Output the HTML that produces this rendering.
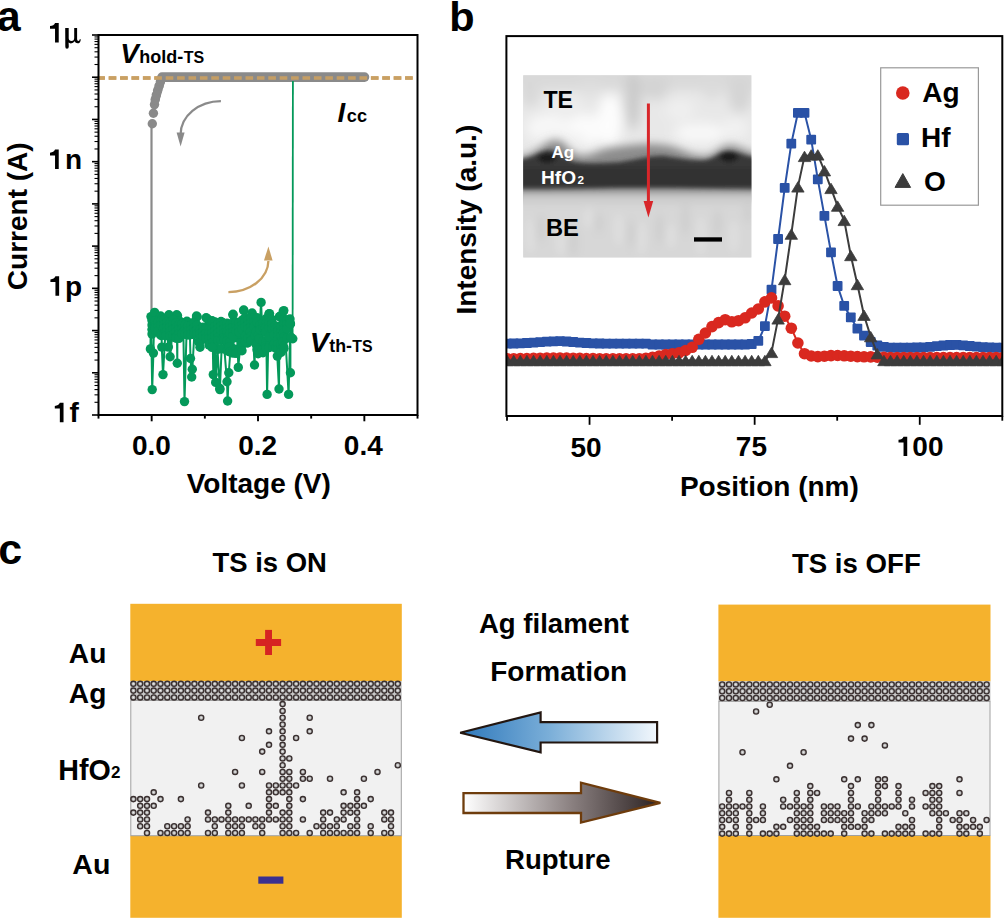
<!DOCTYPE html>
<html><head><meta charset="utf-8"><style>
html,body{margin:0;padding:0;background:#fff;width:1004px;height:919px;overflow:hidden;}
svg{display:block;}
</style></head><body>
<svg width="1004" height="919" viewBox="0 0 1004 919"><text x="-3.10" y="30.71" font-family="Liberation Sans" font-weight="bold" font-style="normal" font-size="42.50" fill="#000" >a</text>
<line x1="97.6" y1="78" x2="416" y2="78" stroke="#c9a063" stroke-width="3.4" stroke-dasharray="7.6 3.8" stroke-dashoffset="0.3"/>
<line x1="151.5" y1="124" x2="151.5" y2="312" stroke="#8a8a8a" stroke-width="2.2"/>
<circle cx="152.3" cy="123.7" r="4.7" fill="#8a8a8a"/>
<circle cx="153.4" cy="113.3" r="4.7" fill="#8a8a8a"/>
<circle cx="154.5" cy="104.6" r="4.7" fill="#8a8a8a"/>
<polyline points="155.3,100 156.6,95 158.2,89.5 159.8,84.5 161.3,79.5 162.5,77.2" fill="none" stroke="#8a8a8a" stroke-width="8.6" stroke-linejoin="round" stroke-linecap="round"/>
<circle cx="155.2" cy="99.5" r="4.7" fill="#8a8a8a"/>
<circle cx="156.3" cy="95" r="4.7" fill="#8a8a8a"/>
<circle cx="157.6" cy="90.5" r="4.7" fill="#8a8a8a"/>
<circle cx="159" cy="86" r="4.7" fill="#8a8a8a"/>
<circle cx="160.4" cy="81.5" r="4.7" fill="#8a8a8a"/>
<line x1="162" y1="77.1" x2="364.5" y2="77.1" stroke="#8a8a8a" stroke-width="9.6" stroke-linecap="round"/>
<line x1="97.6" y1="78" x2="416" y2="78" stroke="#c9a063" stroke-width="3.4" stroke-dasharray="7.6 3.8" stroke-dashoffset="0.3" opacity="0.95"/>
<path d="M220.9,101.1 A40.3,33.5 0 0 0 180.6,134.6" fill="none" stroke="#8a8a8a" stroke-width="2.2"/>
<path d="M176.6,132.5 L184.6,132.5 L180.6,146.5 Z" fill="#8a8a8a"/>
<path d="M228.4,292.1 A40,31.6 0 0 0 268.4,261" fill="none" stroke="#c9a063" stroke-width="2.3"/>
<path d="M264,260.5 L272.6,260.5 L268.4,246.4 Z" fill="#c9a063"/>
<line x1="292.9" y1="81" x2="292.6" y2="336" stroke="#04995a" stroke-width="1.8"/>
<polyline points="150.4,348.9 151.0,316.6 152.2,389.6 153.4,353.1 154.2,316.7 154.6,312.4 155.2,325.5 160.6,316.0 161.4,318.5 161.8,347.1 163.0,374.6 166.0,321.6 168.4,347.1 168.5,315.8 169.0,314.8 170.1,356.7 172.6,331.3 173.9,337.1 176.7,314.8 177.3,363.3 177.5,315.8 179.2,320.8 180.6,335.5 181.9,325.2 183.2,322.6 184.5,401.6 186.9,321.3 187.3,322.1 188.5,323.3 189.8,330.5 190.5,358.5 191.7,377.0 192.3,369.3 195.1,321.1 196.5,316.0 197.2,316.7 198.9,341.7 198.9,341.7 201.7,329.4 203.0,337.6 204.3,333.6 206.1,317.8 207.1,318.5 208.3,341.0 209.6,327.3 212.0,320.7 212.4,321.2 213.3,374.6 214.9,341.9 215.7,382.4 217.5,349.4 219.8,388.4 219.9,389.6 221.6,348.9 221.6,322.5 222.2,322.5 222.3,323.0 227.0,381.8 227.6,401.0 228.8,372.8 230.7,346.3 233.0,314.2 233.0,314.9 234.7,337.8 236.0,337.4 237.3,333.7 238.3,367.4 240.0,348.3 241.3,334.2 243.7,310.0 243.8,310.5 245.3,332.6 247.3,342.9 247.3,342.9 249.2,334.8 250.5,325.1 251.9,314.0 252.1,313.0 254.5,365.0 255.8,328.3 257.1,323.0 258.1,353.7 259.8,321.7 261.1,302.4 262.9,346.5 262.9,322.5 265.1,330.9 266.4,344.4 267.1,394.4 268.9,314.0 269.5,313.6 271.7,344.7 273.0,342.9 274.3,344.2 275.6,327.8 277.3,356.1 279.0,389.0 279.6,316.5 279.6,316.7 282.0,342.9 282.0,342.9 283.2,311.4 283.8,310.6 288.6,394.4 290.4,323.7 290.4,372.8 290.4,323.9 292.8,338.7" fill="none" stroke="#04995a" stroke-width="2"/>
<circle cx="150.4" cy="348.9" r="4.7" fill="#04995a"/>
<circle cx="151.0" cy="316.6" r="4.7" fill="#04995a"/>
<circle cx="152.2" cy="389.6" r="4.7" fill="#04995a"/>
<circle cx="153.4" cy="353.1" r="4.7" fill="#04995a"/>
<circle cx="154.2" cy="316.7" r="4.7" fill="#04995a"/>
<circle cx="154.6" cy="312.4" r="4.7" fill="#04995a"/>
<circle cx="155.2" cy="325.5" r="4.7" fill="#04995a"/>
<circle cx="160.6" cy="316.0" r="4.7" fill="#04995a"/>
<circle cx="161.4" cy="318.5" r="4.7" fill="#04995a"/>
<circle cx="161.8" cy="347.1" r="4.7" fill="#04995a"/>
<circle cx="163.0" cy="374.6" r="4.7" fill="#04995a"/>
<circle cx="166.0" cy="321.6" r="4.7" fill="#04995a"/>
<circle cx="168.4" cy="347.1" r="4.7" fill="#04995a"/>
<circle cx="168.5" cy="315.8" r="4.7" fill="#04995a"/>
<circle cx="169.0" cy="314.8" r="4.7" fill="#04995a"/>
<circle cx="170.1" cy="356.7" r="4.7" fill="#04995a"/>
<circle cx="172.6" cy="331.3" r="4.7" fill="#04995a"/>
<circle cx="173.9" cy="337.1" r="4.7" fill="#04995a"/>
<circle cx="176.7" cy="314.8" r="4.7" fill="#04995a"/>
<circle cx="177.3" cy="363.3" r="4.7" fill="#04995a"/>
<circle cx="177.5" cy="315.8" r="4.7" fill="#04995a"/>
<circle cx="179.2" cy="320.8" r="4.7" fill="#04995a"/>
<circle cx="180.6" cy="335.5" r="4.7" fill="#04995a"/>
<circle cx="181.9" cy="325.2" r="4.7" fill="#04995a"/>
<circle cx="183.2" cy="322.6" r="4.7" fill="#04995a"/>
<circle cx="184.5" cy="401.6" r="4.7" fill="#04995a"/>
<circle cx="186.9" cy="321.3" r="4.7" fill="#04995a"/>
<circle cx="187.3" cy="322.1" r="4.7" fill="#04995a"/>
<circle cx="188.5" cy="323.3" r="4.7" fill="#04995a"/>
<circle cx="189.8" cy="330.5" r="4.7" fill="#04995a"/>
<circle cx="190.5" cy="358.5" r="4.7" fill="#04995a"/>
<circle cx="191.7" cy="377.0" r="4.7" fill="#04995a"/>
<circle cx="192.3" cy="369.3" r="4.7" fill="#04995a"/>
<circle cx="195.1" cy="321.1" r="4.7" fill="#04995a"/>
<circle cx="196.5" cy="316.0" r="4.7" fill="#04995a"/>
<circle cx="197.2" cy="316.7" r="4.7" fill="#04995a"/>
<circle cx="198.9" cy="341.7" r="4.7" fill="#04995a"/>
<circle cx="198.9" cy="341.7" r="4.7" fill="#04995a"/>
<circle cx="201.7" cy="329.4" r="4.7" fill="#04995a"/>
<circle cx="203.0" cy="337.6" r="4.7" fill="#04995a"/>
<circle cx="204.3" cy="333.6" r="4.7" fill="#04995a"/>
<circle cx="206.1" cy="317.8" r="4.7" fill="#04995a"/>
<circle cx="207.1" cy="318.5" r="4.7" fill="#04995a"/>
<circle cx="208.3" cy="341.0" r="4.7" fill="#04995a"/>
<circle cx="209.6" cy="327.3" r="4.7" fill="#04995a"/>
<circle cx="212.0" cy="320.7" r="4.7" fill="#04995a"/>
<circle cx="212.4" cy="321.2" r="4.7" fill="#04995a"/>
<circle cx="213.3" cy="374.6" r="4.7" fill="#04995a"/>
<circle cx="214.9" cy="341.9" r="4.7" fill="#04995a"/>
<circle cx="215.7" cy="382.4" r="4.7" fill="#04995a"/>
<circle cx="217.5" cy="349.4" r="4.7" fill="#04995a"/>
<circle cx="219.8" cy="388.4" r="4.7" fill="#04995a"/>
<circle cx="219.9" cy="389.6" r="4.7" fill="#04995a"/>
<circle cx="221.6" cy="348.9" r="4.7" fill="#04995a"/>
<circle cx="221.6" cy="322.5" r="4.7" fill="#04995a"/>
<circle cx="222.2" cy="322.5" r="4.7" fill="#04995a"/>
<circle cx="222.3" cy="323.0" r="4.7" fill="#04995a"/>
<circle cx="227.0" cy="381.8" r="4.7" fill="#04995a"/>
<circle cx="227.6" cy="401.0" r="4.7" fill="#04995a"/>
<circle cx="228.8" cy="372.8" r="4.7" fill="#04995a"/>
<circle cx="230.7" cy="346.3" r="4.7" fill="#04995a"/>
<circle cx="233.0" cy="314.2" r="4.7" fill="#04995a"/>
<circle cx="233.0" cy="314.9" r="4.7" fill="#04995a"/>
<circle cx="234.7" cy="337.8" r="4.7" fill="#04995a"/>
<circle cx="236.0" cy="337.4" r="4.7" fill="#04995a"/>
<circle cx="237.3" cy="333.7" r="4.7" fill="#04995a"/>
<circle cx="238.3" cy="367.4" r="4.7" fill="#04995a"/>
<circle cx="240.0" cy="348.3" r="4.7" fill="#04995a"/>
<circle cx="241.3" cy="334.2" r="4.7" fill="#04995a"/>
<circle cx="243.7" cy="310.0" r="4.7" fill="#04995a"/>
<circle cx="243.8" cy="310.5" r="4.7" fill="#04995a"/>
<circle cx="245.3" cy="332.6" r="4.7" fill="#04995a"/>
<circle cx="247.3" cy="342.9" r="4.7" fill="#04995a"/>
<circle cx="247.3" cy="342.9" r="4.7" fill="#04995a"/>
<circle cx="249.2" cy="334.8" r="4.7" fill="#04995a"/>
<circle cx="250.5" cy="325.1" r="4.7" fill="#04995a"/>
<circle cx="251.9" cy="314.0" r="4.7" fill="#04995a"/>
<circle cx="252.1" cy="313.0" r="4.7" fill="#04995a"/>
<circle cx="254.5" cy="365.0" r="4.7" fill="#04995a"/>
<circle cx="255.8" cy="328.3" r="4.7" fill="#04995a"/>
<circle cx="257.1" cy="323.0" r="4.7" fill="#04995a"/>
<circle cx="258.1" cy="353.7" r="4.7" fill="#04995a"/>
<circle cx="259.8" cy="321.7" r="4.7" fill="#04995a"/>
<circle cx="261.1" cy="302.4" r="4.7" fill="#04995a"/>
<circle cx="262.9" cy="346.5" r="4.7" fill="#04995a"/>
<circle cx="262.9" cy="322.5" r="4.7" fill="#04995a"/>
<circle cx="265.1" cy="330.9" r="4.7" fill="#04995a"/>
<circle cx="266.4" cy="344.4" r="4.7" fill="#04995a"/>
<circle cx="267.1" cy="394.4" r="4.7" fill="#04995a"/>
<circle cx="268.9" cy="314.0" r="4.7" fill="#04995a"/>
<circle cx="269.5" cy="313.6" r="4.7" fill="#04995a"/>
<circle cx="271.7" cy="344.7" r="4.7" fill="#04995a"/>
<circle cx="273.0" cy="342.9" r="4.7" fill="#04995a"/>
<circle cx="274.3" cy="344.2" r="4.7" fill="#04995a"/>
<circle cx="275.6" cy="327.8" r="4.7" fill="#04995a"/>
<circle cx="277.3" cy="356.1" r="4.7" fill="#04995a"/>
<circle cx="279.0" cy="389.0" r="4.7" fill="#04995a"/>
<circle cx="279.6" cy="316.5" r="4.7" fill="#04995a"/>
<circle cx="279.6" cy="316.7" r="4.7" fill="#04995a"/>
<circle cx="282.0" cy="342.9" r="4.7" fill="#04995a"/>
<circle cx="282.0" cy="342.9" r="4.7" fill="#04995a"/>
<circle cx="283.2" cy="311.4" r="4.7" fill="#04995a"/>
<circle cx="283.8" cy="310.6" r="4.7" fill="#04995a"/>
<circle cx="288.6" cy="394.4" r="4.7" fill="#04995a"/>
<circle cx="290.4" cy="323.7" r="4.7" fill="#04995a"/>
<circle cx="290.4" cy="372.8" r="4.7" fill="#04995a"/>
<circle cx="290.4" cy="323.9" r="4.7" fill="#04995a"/>
<circle cx="292.8" cy="338.7" r="4.7" fill="#04995a"/>
<circle cx="152.0" cy="320.6" r="4.7" fill="#04995a"/>
<circle cx="152.0" cy="325.1" r="4.7" fill="#04995a"/>
<circle cx="152.0" cy="329.6" r="4.7" fill="#04995a"/>
<circle cx="152.0" cy="334.1" r="4.7" fill="#04995a"/>
<circle cx="155.0" cy="321.0" r="4.7" fill="#04995a"/>
<circle cx="155.0" cy="325.5" r="4.7" fill="#04995a"/>
<circle cx="155.0" cy="330.0" r="4.7" fill="#04995a"/>
<circle cx="155.0" cy="327.6" r="4.7" fill="#04995a"/>
<circle cx="158.0" cy="322.2" r="4.7" fill="#04995a"/>
<circle cx="158.0" cy="326.7" r="4.7" fill="#04995a"/>
<circle cx="158.0" cy="331.2" r="4.7" fill="#04995a"/>
<circle cx="161.0" cy="320.7" r="4.7" fill="#04995a"/>
<circle cx="161.0" cy="325.2" r="4.7" fill="#04995a"/>
<circle cx="160.1" cy="334.2" r="4.7" fill="#04995a"/>
<circle cx="161.0" cy="335.5" r="4.7" fill="#04995a"/>
<circle cx="164.0" cy="320.0" r="4.7" fill="#04995a"/>
<circle cx="164.0" cy="324.5" r="4.7" fill="#04995a"/>
<circle cx="163.3" cy="329.0" r="4.7" fill="#04995a"/>
<circle cx="163.7" cy="333.5" r="4.7" fill="#04995a"/>
<circle cx="164.0" cy="335.2" r="4.7" fill="#04995a"/>
<circle cx="167.0" cy="322.1" r="4.7" fill="#04995a"/>
<circle cx="167.0" cy="326.6" r="4.7" fill="#04995a"/>
<circle cx="166.7" cy="331.1" r="4.7" fill="#04995a"/>
<circle cx="166.2" cy="335.6" r="4.7" fill="#04995a"/>
<circle cx="170.0" cy="322.5" r="4.7" fill="#04995a"/>
<circle cx="170.0" cy="327.0" r="4.7" fill="#04995a"/>
<circle cx="170.0" cy="331.5" r="4.7" fill="#04995a"/>
<circle cx="170.0" cy="335.8" r="4.7" fill="#04995a"/>
<circle cx="173.0" cy="319.8" r="4.7" fill="#04995a"/>
<circle cx="173.0" cy="324.3" r="4.7" fill="#04995a"/>
<circle cx="173.0" cy="328.8" r="4.7" fill="#04995a"/>
<circle cx="173.0" cy="335.2" r="4.7" fill="#04995a"/>
<circle cx="176.0" cy="323.1" r="4.7" fill="#04995a"/>
<circle cx="176.0" cy="327.6" r="4.7" fill="#04995a"/>
<circle cx="176.0" cy="332.1" r="4.7" fill="#04995a"/>
<circle cx="176.1" cy="336.6" r="4.7" fill="#04995a"/>
<circle cx="176.0" cy="338.3" r="4.7" fill="#04995a"/>
<circle cx="179.0" cy="324.6" r="4.7" fill="#04995a"/>
<circle cx="179.0" cy="329.1" r="4.7" fill="#04995a"/>
<circle cx="179.0" cy="333.6" r="4.7" fill="#04995a"/>
<circle cx="179.0" cy="338.4" r="4.7" fill="#04995a"/>
<circle cx="182.0" cy="324.1" r="4.7" fill="#04995a"/>
<circle cx="182.0" cy="328.6" r="4.7" fill="#04995a"/>
<circle cx="182.0" cy="333.1" r="4.7" fill="#04995a"/>
<circle cx="182.0" cy="334.3" r="4.7" fill="#04995a"/>
<circle cx="185.0" cy="325.3" r="4.7" fill="#04995a"/>
<circle cx="185.0" cy="329.8" r="4.7" fill="#04995a"/>
<circle cx="185.0" cy="334.3" r="4.7" fill="#04995a"/>
<circle cx="188.0" cy="326.0" r="4.7" fill="#04995a"/>
<circle cx="188.0" cy="330.5" r="4.7" fill="#04995a"/>
<circle cx="188.0" cy="335.0" r="4.7" fill="#04995a"/>
<circle cx="191.0" cy="325.2" r="4.7" fill="#04995a"/>
<circle cx="191.0" cy="329.7" r="4.7" fill="#04995a"/>
<circle cx="191.0" cy="334.2" r="4.7" fill="#04995a"/>
<circle cx="191.0" cy="334.6" r="4.7" fill="#04995a"/>
<circle cx="194.0" cy="323.1" r="4.7" fill="#04995a"/>
<circle cx="194.0" cy="327.6" r="4.7" fill="#04995a"/>
<circle cx="194.0" cy="332.1" r="4.7" fill="#04995a"/>
<circle cx="194.0" cy="333.6" r="4.7" fill="#04995a"/>
<circle cx="197.0" cy="325.1" r="4.7" fill="#04995a"/>
<circle cx="197.0" cy="329.6" r="4.7" fill="#04995a"/>
<circle cx="197.0" cy="334.1" r="4.7" fill="#04995a"/>
<circle cx="200.0" cy="329.5" r="4.7" fill="#04995a"/>
<circle cx="200.0" cy="334.0" r="4.7" fill="#04995a"/>
<circle cx="200.0" cy="338.5" r="4.7" fill="#04995a"/>
<circle cx="199.5" cy="343.0" r="4.7" fill="#04995a"/>
<circle cx="200.0" cy="347.3" r="4.7" fill="#04995a"/>
<circle cx="203.0" cy="327.1" r="4.7" fill="#04995a"/>
<circle cx="203.0" cy="331.6" r="4.7" fill="#04995a"/>
<circle cx="203.0" cy="336.1" r="4.7" fill="#04995a"/>
<circle cx="206.0" cy="328.9" r="4.7" fill="#04995a"/>
<circle cx="206.0" cy="333.4" r="4.7" fill="#04995a"/>
<circle cx="206.0" cy="337.9" r="4.7" fill="#04995a"/>
<circle cx="209.0" cy="328.8" r="4.7" fill="#04995a"/>
<circle cx="209.0" cy="333.3" r="4.7" fill="#04995a"/>
<circle cx="209.0" cy="337.8" r="4.7" fill="#04995a"/>
<circle cx="209.0" cy="344.9" r="4.7" fill="#04995a"/>
<circle cx="212.0" cy="328.9" r="4.7" fill="#04995a"/>
<circle cx="212.0" cy="333.4" r="4.7" fill="#04995a"/>
<circle cx="212.0" cy="337.9" r="4.7" fill="#04995a"/>
<circle cx="212.9" cy="342.4" r="4.7" fill="#04995a"/>
<circle cx="212.0" cy="347.4" r="4.7" fill="#04995a"/>
<circle cx="215.0" cy="321.9" r="4.7" fill="#04995a"/>
<circle cx="215.0" cy="326.4" r="4.7" fill="#04995a"/>
<circle cx="215.0" cy="330.9" r="4.7" fill="#04995a"/>
<circle cx="215.0" cy="336.3" r="4.7" fill="#04995a"/>
<circle cx="218.0" cy="324.0" r="4.7" fill="#04995a"/>
<circle cx="218.0" cy="328.5" r="4.7" fill="#04995a"/>
<circle cx="218.0" cy="333.0" r="4.7" fill="#04995a"/>
<circle cx="218.1" cy="337.5" r="4.7" fill="#04995a"/>
<circle cx="218.0" cy="340.4" r="4.7" fill="#04995a"/>
<circle cx="221.0" cy="321.5" r="4.7" fill="#04995a"/>
<circle cx="221.0" cy="326.0" r="4.7" fill="#04995a"/>
<circle cx="221.0" cy="330.5" r="4.7" fill="#04995a"/>
<circle cx="221.0" cy="340.4" r="4.7" fill="#04995a"/>
<circle cx="224.0" cy="324.1" r="4.7" fill="#04995a"/>
<circle cx="224.0" cy="328.6" r="4.7" fill="#04995a"/>
<circle cx="224.0" cy="333.1" r="4.7" fill="#04995a"/>
<circle cx="223.6" cy="337.6" r="4.7" fill="#04995a"/>
<circle cx="224.0" cy="339.6" r="4.7" fill="#04995a"/>
<circle cx="227.0" cy="323.3" r="4.7" fill="#04995a"/>
<circle cx="227.0" cy="327.8" r="4.7" fill="#04995a"/>
<circle cx="227.0" cy="332.3" r="4.7" fill="#04995a"/>
<circle cx="227.8" cy="336.8" r="4.7" fill="#04995a"/>
<circle cx="226.9" cy="341.3" r="4.7" fill="#04995a"/>
<circle cx="227.0" cy="350.8" r="4.7" fill="#04995a"/>
<circle cx="230.0" cy="324.3" r="4.7" fill="#04995a"/>
<circle cx="230.0" cy="328.8" r="4.7" fill="#04995a"/>
<circle cx="230.0" cy="333.3" r="4.7" fill="#04995a"/>
<circle cx="229.9" cy="342.3" r="4.7" fill="#04995a"/>
<circle cx="229.0" cy="346.8" r="4.7" fill="#04995a"/>
<circle cx="230.0" cy="352.0" r="4.7" fill="#04995a"/>
<circle cx="233.0" cy="322.9" r="4.7" fill="#04995a"/>
<circle cx="233.0" cy="327.4" r="4.7" fill="#04995a"/>
<circle cx="233.0" cy="331.9" r="4.7" fill="#04995a"/>
<circle cx="233.0" cy="336.4" r="4.7" fill="#04995a"/>
<circle cx="233.1" cy="349.9" r="4.7" fill="#04995a"/>
<circle cx="233.0" cy="353.1" r="4.7" fill="#04995a"/>
<circle cx="236.0" cy="322.3" r="4.7" fill="#04995a"/>
<circle cx="236.0" cy="326.8" r="4.7" fill="#04995a"/>
<circle cx="236.0" cy="331.3" r="4.7" fill="#04995a"/>
<circle cx="236.2" cy="349.3" r="4.7" fill="#04995a"/>
<circle cx="236.0" cy="353.4" r="4.7" fill="#04995a"/>
<circle cx="239.0" cy="323.0" r="4.7" fill="#04995a"/>
<circle cx="239.0" cy="327.5" r="4.7" fill="#04995a"/>
<circle cx="239.0" cy="332.0" r="4.7" fill="#04995a"/>
<circle cx="242.0" cy="320.3" r="4.7" fill="#04995a"/>
<circle cx="242.0" cy="324.8" r="4.7" fill="#04995a"/>
<circle cx="242.0" cy="329.3" r="4.7" fill="#04995a"/>
<circle cx="241.2" cy="342.8" r="4.7" fill="#04995a"/>
<circle cx="241.1" cy="347.3" r="4.7" fill="#04995a"/>
<circle cx="242.0" cy="350.8" r="4.7" fill="#04995a"/>
<circle cx="245.0" cy="317.7" r="4.7" fill="#04995a"/>
<circle cx="245.0" cy="322.2" r="4.7" fill="#04995a"/>
<circle cx="245.0" cy="326.7" r="4.7" fill="#04995a"/>
<circle cx="245.4" cy="335.7" r="4.7" fill="#04995a"/>
<circle cx="245.0" cy="341.8" r="4.7" fill="#04995a"/>
<circle cx="248.0" cy="320.1" r="4.7" fill="#04995a"/>
<circle cx="248.0" cy="324.6" r="4.7" fill="#04995a"/>
<circle cx="248.0" cy="329.1" r="4.7" fill="#04995a"/>
<circle cx="248.0" cy="338.1" r="4.7" fill="#04995a"/>
<circle cx="251.0" cy="318.0" r="4.7" fill="#04995a"/>
<circle cx="251.0" cy="322.5" r="4.7" fill="#04995a"/>
<circle cx="251.0" cy="327.0" r="4.7" fill="#04995a"/>
<circle cx="250.4" cy="331.5" r="4.7" fill="#04995a"/>
<circle cx="251.4" cy="336.0" r="4.7" fill="#04995a"/>
<circle cx="251.1" cy="340.5" r="4.7" fill="#04995a"/>
<circle cx="251.0" cy="340.7" r="4.7" fill="#04995a"/>
<circle cx="254.0" cy="317.6" r="4.7" fill="#04995a"/>
<circle cx="254.0" cy="322.1" r="4.7" fill="#04995a"/>
<circle cx="254.0" cy="326.6" r="4.7" fill="#04995a"/>
<circle cx="255.0" cy="335.6" r="4.7" fill="#04995a"/>
<circle cx="257.0" cy="317.8" r="4.7" fill="#04995a"/>
<circle cx="257.0" cy="322.3" r="4.7" fill="#04995a"/>
<circle cx="256.3" cy="331.3" r="4.7" fill="#04995a"/>
<circle cx="257.8" cy="335.8" r="4.7" fill="#04995a"/>
<circle cx="256.3" cy="344.8" r="4.7" fill="#04995a"/>
<circle cx="257.0" cy="349.8" r="4.7" fill="#04995a"/>
<circle cx="260.0" cy="325.1" r="4.7" fill="#04995a"/>
<circle cx="260.0" cy="329.6" r="4.7" fill="#04995a"/>
<circle cx="259.1" cy="338.6" r="4.7" fill="#04995a"/>
<circle cx="263.0" cy="323.3" r="4.7" fill="#04995a"/>
<circle cx="263.0" cy="327.8" r="4.7" fill="#04995a"/>
<circle cx="263.1" cy="341.3" r="4.7" fill="#04995a"/>
<circle cx="262.3" cy="350.3" r="4.7" fill="#04995a"/>
<circle cx="263.0" cy="352.8" r="4.7" fill="#04995a"/>
<circle cx="266.0" cy="318.7" r="4.7" fill="#04995a"/>
<circle cx="266.0" cy="323.2" r="4.7" fill="#04995a"/>
<circle cx="265.4" cy="327.7" r="4.7" fill="#04995a"/>
<circle cx="265.6" cy="332.2" r="4.7" fill="#04995a"/>
<circle cx="266.0" cy="341.2" r="4.7" fill="#04995a"/>
<circle cx="265.7" cy="345.7" r="4.7" fill="#04995a"/>
<circle cx="266.0" cy="348.0" r="4.7" fill="#04995a"/>
<circle cx="269.0" cy="318.8" r="4.7" fill="#04995a"/>
<circle cx="269.0" cy="323.3" r="4.7" fill="#04995a"/>
<circle cx="269.0" cy="327.8" r="4.7" fill="#04995a"/>
<circle cx="268.9" cy="336.8" r="4.7" fill="#04995a"/>
<circle cx="269.6" cy="345.8" r="4.7" fill="#04995a"/>
<circle cx="269.0" cy="347.6" r="4.7" fill="#04995a"/>
<circle cx="272.0" cy="319.5" r="4.7" fill="#04995a"/>
<circle cx="272.0" cy="324.0" r="4.7" fill="#04995a"/>
<circle cx="272.0" cy="328.5" r="4.7" fill="#04995a"/>
<circle cx="272.7" cy="346.5" r="4.7" fill="#04995a"/>
<circle cx="275.0" cy="325.7" r="4.7" fill="#04995a"/>
<circle cx="275.0" cy="330.2" r="4.7" fill="#04995a"/>
<circle cx="274.1" cy="334.7" r="4.7" fill="#04995a"/>
<circle cx="274.3" cy="343.7" r="4.7" fill="#04995a"/>
<circle cx="275.7" cy="348.2" r="4.7" fill="#04995a"/>
<circle cx="278.0" cy="326.5" r="4.7" fill="#04995a"/>
<circle cx="278.0" cy="331.0" r="4.7" fill="#04995a"/>
<circle cx="278.0" cy="335.5" r="4.7" fill="#04995a"/>
<circle cx="277.9" cy="340.0" r="4.7" fill="#04995a"/>
<circle cx="277.9" cy="344.5" r="4.7" fill="#04995a"/>
<circle cx="278.0" cy="348.9" r="4.7" fill="#04995a"/>
<circle cx="281.0" cy="327.4" r="4.7" fill="#04995a"/>
<circle cx="281.0" cy="331.9" r="4.7" fill="#04995a"/>
<circle cx="281.0" cy="336.4" r="4.7" fill="#04995a"/>
<circle cx="281.9" cy="340.9" r="4.7" fill="#04995a"/>
<circle cx="280.7" cy="345.4" r="4.7" fill="#04995a"/>
<circle cx="280.8" cy="349.9" r="4.7" fill="#04995a"/>
<circle cx="281.0" cy="352.4" r="4.7" fill="#04995a"/>
<circle cx="284.0" cy="319.5" r="4.7" fill="#04995a"/>
<circle cx="284.0" cy="324.0" r="4.7" fill="#04995a"/>
<circle cx="284.0" cy="328.5" r="4.7" fill="#04995a"/>
<circle cx="283.5" cy="333.0" r="4.7" fill="#04995a"/>
<circle cx="283.8" cy="337.5" r="4.7" fill="#04995a"/>
<circle cx="283.0" cy="342.0" r="4.7" fill="#04995a"/>
<circle cx="283.5" cy="346.5" r="4.7" fill="#04995a"/>
<circle cx="284.0" cy="348.5" r="4.7" fill="#04995a"/>
<circle cx="287.0" cy="319.6" r="4.7" fill="#04995a"/>
<circle cx="287.0" cy="324.1" r="4.7" fill="#04995a"/>
<circle cx="287.0" cy="328.6" r="4.7" fill="#04995a"/>
<circle cx="287.0" cy="338.3" r="4.7" fill="#04995a"/>
<circle cx="290.0" cy="319.0" r="4.7" fill="#04995a"/>
<circle cx="290.0" cy="323.5" r="4.7" fill="#04995a"/>
<circle cx="290.7" cy="337.0" r="4.7" fill="#04995a"/>
<rect x="98.5" y="35" width="319.0" height="380" fill="none" stroke="#000" stroke-width="2"/>
<line x1="92" y1="35.00" x2="98.5" y2="35.00" stroke="#000" stroke-width="1.6"/>
<line x1="94.5" y1="64.51" x2="98.5" y2="64.51" stroke="#000" stroke-width="1.1"/>
<line x1="94.5" y1="57.08" x2="98.5" y2="57.08" stroke="#000" stroke-width="1.1"/>
<line x1="94.5" y1="51.80" x2="98.5" y2="51.80" stroke="#000" stroke-width="1.1"/>
<line x1="94.5" y1="47.71" x2="98.5" y2="47.71" stroke="#000" stroke-width="1.1"/>
<line x1="94.5" y1="44.37" x2="98.5" y2="44.37" stroke="#000" stroke-width="1.1"/>
<line x1="94.5" y1="41.54" x2="98.5" y2="41.54" stroke="#000" stroke-width="1.1"/>
<line x1="94.5" y1="39.09" x2="98.5" y2="39.09" stroke="#000" stroke-width="1.1"/>
<line x1="94.5" y1="36.93" x2="98.5" y2="36.93" stroke="#000" stroke-width="1.1"/>
<line x1="92" y1="77.22" x2="98.5" y2="77.22" stroke="#000" stroke-width="1.6"/>
<line x1="94.5" y1="106.73" x2="98.5" y2="106.73" stroke="#000" stroke-width="1.1"/>
<line x1="94.5" y1="99.30" x2="98.5" y2="99.30" stroke="#000" stroke-width="1.1"/>
<line x1="94.5" y1="94.02" x2="98.5" y2="94.02" stroke="#000" stroke-width="1.1"/>
<line x1="94.5" y1="89.93" x2="98.5" y2="89.93" stroke="#000" stroke-width="1.1"/>
<line x1="94.5" y1="86.59" x2="98.5" y2="86.59" stroke="#000" stroke-width="1.1"/>
<line x1="94.5" y1="83.76" x2="98.5" y2="83.76" stroke="#000" stroke-width="1.1"/>
<line x1="94.5" y1="81.31" x2="98.5" y2="81.31" stroke="#000" stroke-width="1.1"/>
<line x1="94.5" y1="79.15" x2="98.5" y2="79.15" stroke="#000" stroke-width="1.1"/>
<line x1="92" y1="119.44" x2="98.5" y2="119.44" stroke="#000" stroke-width="1.6"/>
<line x1="94.5" y1="148.96" x2="98.5" y2="148.96" stroke="#000" stroke-width="1.1"/>
<line x1="94.5" y1="141.52" x2="98.5" y2="141.52" stroke="#000" stroke-width="1.1"/>
<line x1="94.5" y1="136.25" x2="98.5" y2="136.25" stroke="#000" stroke-width="1.1"/>
<line x1="94.5" y1="132.15" x2="98.5" y2="132.15" stroke="#000" stroke-width="1.1"/>
<line x1="94.5" y1="128.81" x2="98.5" y2="128.81" stroke="#000" stroke-width="1.1"/>
<line x1="94.5" y1="125.98" x2="98.5" y2="125.98" stroke="#000" stroke-width="1.1"/>
<line x1="94.5" y1="123.54" x2="98.5" y2="123.54" stroke="#000" stroke-width="1.1"/>
<line x1="94.5" y1="121.38" x2="98.5" y2="121.38" stroke="#000" stroke-width="1.1"/>
<line x1="92" y1="161.67" x2="98.5" y2="161.67" stroke="#000" stroke-width="1.6"/>
<line x1="94.5" y1="191.18" x2="98.5" y2="191.18" stroke="#000" stroke-width="1.1"/>
<line x1="94.5" y1="183.74" x2="98.5" y2="183.74" stroke="#000" stroke-width="1.1"/>
<line x1="94.5" y1="178.47" x2="98.5" y2="178.47" stroke="#000" stroke-width="1.1"/>
<line x1="94.5" y1="174.38" x2="98.5" y2="174.38" stroke="#000" stroke-width="1.1"/>
<line x1="94.5" y1="171.03" x2="98.5" y2="171.03" stroke="#000" stroke-width="1.1"/>
<line x1="94.5" y1="168.21" x2="98.5" y2="168.21" stroke="#000" stroke-width="1.1"/>
<line x1="94.5" y1="165.76" x2="98.5" y2="165.76" stroke="#000" stroke-width="1.1"/>
<line x1="94.5" y1="163.60" x2="98.5" y2="163.60" stroke="#000" stroke-width="1.1"/>
<line x1="92" y1="203.89" x2="98.5" y2="203.89" stroke="#000" stroke-width="1.6"/>
<line x1="94.5" y1="233.40" x2="98.5" y2="233.40" stroke="#000" stroke-width="1.1"/>
<line x1="94.5" y1="225.97" x2="98.5" y2="225.97" stroke="#000" stroke-width="1.1"/>
<line x1="94.5" y1="220.69" x2="98.5" y2="220.69" stroke="#000" stroke-width="1.1"/>
<line x1="94.5" y1="216.60" x2="98.5" y2="216.60" stroke="#000" stroke-width="1.1"/>
<line x1="94.5" y1="213.26" x2="98.5" y2="213.26" stroke="#000" stroke-width="1.1"/>
<line x1="94.5" y1="210.43" x2="98.5" y2="210.43" stroke="#000" stroke-width="1.1"/>
<line x1="94.5" y1="207.98" x2="98.5" y2="207.98" stroke="#000" stroke-width="1.1"/>
<line x1="94.5" y1="205.82" x2="98.5" y2="205.82" stroke="#000" stroke-width="1.1"/>
<line x1="92" y1="246.11" x2="98.5" y2="246.11" stroke="#000" stroke-width="1.6"/>
<line x1="94.5" y1="275.62" x2="98.5" y2="275.62" stroke="#000" stroke-width="1.1"/>
<line x1="94.5" y1="268.19" x2="98.5" y2="268.19" stroke="#000" stroke-width="1.1"/>
<line x1="94.5" y1="262.91" x2="98.5" y2="262.91" stroke="#000" stroke-width="1.1"/>
<line x1="94.5" y1="258.82" x2="98.5" y2="258.82" stroke="#000" stroke-width="1.1"/>
<line x1="94.5" y1="255.48" x2="98.5" y2="255.48" stroke="#000" stroke-width="1.1"/>
<line x1="94.5" y1="252.65" x2="98.5" y2="252.65" stroke="#000" stroke-width="1.1"/>
<line x1="94.5" y1="250.20" x2="98.5" y2="250.20" stroke="#000" stroke-width="1.1"/>
<line x1="94.5" y1="248.04" x2="98.5" y2="248.04" stroke="#000" stroke-width="1.1"/>
<line x1="92" y1="288.33" x2="98.5" y2="288.33" stroke="#000" stroke-width="1.6"/>
<line x1="94.5" y1="317.85" x2="98.5" y2="317.85" stroke="#000" stroke-width="1.1"/>
<line x1="94.5" y1="310.41" x2="98.5" y2="310.41" stroke="#000" stroke-width="1.1"/>
<line x1="94.5" y1="305.14" x2="98.5" y2="305.14" stroke="#000" stroke-width="1.1"/>
<line x1="94.5" y1="301.04" x2="98.5" y2="301.04" stroke="#000" stroke-width="1.1"/>
<line x1="94.5" y1="297.70" x2="98.5" y2="297.70" stroke="#000" stroke-width="1.1"/>
<line x1="94.5" y1="294.87" x2="98.5" y2="294.87" stroke="#000" stroke-width="1.1"/>
<line x1="94.5" y1="292.43" x2="98.5" y2="292.43" stroke="#000" stroke-width="1.1"/>
<line x1="94.5" y1="290.27" x2="98.5" y2="290.27" stroke="#000" stroke-width="1.1"/>
<line x1="92" y1="330.56" x2="98.5" y2="330.56" stroke="#000" stroke-width="1.6"/>
<line x1="94.5" y1="360.07" x2="98.5" y2="360.07" stroke="#000" stroke-width="1.1"/>
<line x1="94.5" y1="352.63" x2="98.5" y2="352.63" stroke="#000" stroke-width="1.1"/>
<line x1="94.5" y1="347.36" x2="98.5" y2="347.36" stroke="#000" stroke-width="1.1"/>
<line x1="94.5" y1="343.27" x2="98.5" y2="343.27" stroke="#000" stroke-width="1.1"/>
<line x1="94.5" y1="339.92" x2="98.5" y2="339.92" stroke="#000" stroke-width="1.1"/>
<line x1="94.5" y1="337.10" x2="98.5" y2="337.10" stroke="#000" stroke-width="1.1"/>
<line x1="94.5" y1="334.65" x2="98.5" y2="334.65" stroke="#000" stroke-width="1.1"/>
<line x1="94.5" y1="332.49" x2="98.5" y2="332.49" stroke="#000" stroke-width="1.1"/>
<line x1="92" y1="372.78" x2="98.5" y2="372.78" stroke="#000" stroke-width="1.6"/>
<line x1="94.5" y1="402.29" x2="98.5" y2="402.29" stroke="#000" stroke-width="1.1"/>
<line x1="94.5" y1="394.85" x2="98.5" y2="394.85" stroke="#000" stroke-width="1.1"/>
<line x1="94.5" y1="389.58" x2="98.5" y2="389.58" stroke="#000" stroke-width="1.1"/>
<line x1="94.5" y1="385.49" x2="98.5" y2="385.49" stroke="#000" stroke-width="1.1"/>
<line x1="94.5" y1="382.14" x2="98.5" y2="382.14" stroke="#000" stroke-width="1.1"/>
<line x1="94.5" y1="379.32" x2="98.5" y2="379.32" stroke="#000" stroke-width="1.1"/>
<line x1="94.5" y1="376.87" x2="98.5" y2="376.87" stroke="#000" stroke-width="1.1"/>
<line x1="94.5" y1="374.71" x2="98.5" y2="374.71" stroke="#000" stroke-width="1.1"/>
<line x1="92" y1="415.00" x2="98.5" y2="415.00" stroke="#000" stroke-width="1.6"/>
<line x1="98.50" y1="415" x2="98.50" y2="418.6" stroke="#000" stroke-width="1.9"/>
<line x1="151.67" y1="415" x2="151.67" y2="421.3" stroke="#000" stroke-width="1.9"/>
<line x1="204.84" y1="415" x2="204.84" y2="418.6" stroke="#000" stroke-width="1.9"/>
<line x1="258.01" y1="415" x2="258.01" y2="421.3" stroke="#000" stroke-width="1.9"/>
<line x1="311.18" y1="415" x2="311.18" y2="418.6" stroke="#000" stroke-width="1.9"/>
<line x1="364.35" y1="415" x2="364.35" y2="421.3" stroke="#000" stroke-width="1.9"/>
<line x1="417.52" y1="415" x2="417.52" y2="418.6" stroke="#000" stroke-width="1.9"/>
<text x="131.99" y="454.50" font-family="Liberation Sans" font-weight="bold" font-style="normal" font-size="28.00" fill="#000" >0.0</text>
<text x="238.24" y="454.50" font-family="Liberation Sans" font-weight="bold" font-style="normal" font-size="28.00" fill="#000" >0.2</text>
<text x="343.83" y="454.50" font-family="Liberation Sans" font-weight="bold" font-style="normal" font-size="28.00" fill="#000" >0.4</text>
<text x="186.71" y="492.84" font-family="Liberation Sans" font-weight="bold" font-style="normal" font-size="28.00" fill="#000" >Voltage (V)</text>
<text x="26.94" y="290.13" font-family="Liberation Sans" font-weight="bold" font-style="normal" font-size="28.00" fill="#000" transform="rotate(-90 26.94 290.13)">Current (A)</text>
<path d="M55.04,149.60 L58.73,149.60 L58.73,169.00 L55.04,169.00 L55.04,155.42 L50.00,155.42 L50.00,152.70 Q53.88,152.32 55.04,149.60 Z" fill="#000"/>
<text x="65.00" y="169.00" font-family="Liberation Sans" font-weight="bold" font-style="normal" font-size="28.00" fill="#000" >n</text>
<path d="M55.44,276.30 L59.13,276.30 L59.13,295.70 L55.44,295.70 L55.44,282.12 L50.40,282.12 L50.40,279.40 Q54.28,279.02 55.44,276.30 Z" fill="#000"/>
<text x="64.94" y="295.70" font-family="Liberation Sans" font-weight="bold" font-style="normal" font-size="28.00" fill="#000" >p</text>
<path d="M59.84,402.80 L63.53,402.80 L63.53,422.20 L59.84,422.20 L59.84,408.62 L54.80,408.62 L54.80,405.90 Q58.68,405.52 59.84,402.80 Z" fill="#000"/>
<text x="69.58" y="422.20" font-family="Liberation Sans" font-weight="bold" font-style="normal" font-size="28.00" fill="#000" >f</text>
<path d="M55.04,23.00 L58.73,23.00 L58.73,42.40 L55.04,42.40 L55.04,28.82 L50.00,28.82 L50.00,26.10 Q53.88,25.72 55.04,23.00 Z" fill="#000"/>
<path d="M65.2,28.1 L68.7,28.1 L68.7,38.3 Q68.9,41 71.5,41 Q74.2,41 74.2,37.8 L74.2,28.1 L77.1,28.1 L77.1,39.3 Q77.2,41.1 78.4,41.1 Q79.5,41.1 79.9,39.1 L80.8,39.4 Q80.3,43.3 77.6,43.3 Q75.3,43.3 74.7,41.3 Q73.3,43.4 70.8,43.4 Q69.4,43.4 68.6,42.6 L68.8,46.5 Q68.8,48.8 67,48.8 Q65.2,48.8 65.3,46.5 Z" fill="#000"/>
<text x="120.27" y="62.90" font-family="Liberation Sans" font-weight="bold" font-style="italic" font-size="27.83" fill="#000" >V</text>
<text x="139.24" y="62.90" font-family="Liberation Sans" font-weight="bold" font-style="normal" font-size="18.00" fill="#000" >hold-</text>
<text x="183.84" y="62.90" font-family="Liberation Sans" font-weight="bold" font-style="normal" font-size="16.00" fill="#000" >TS</text>
<text x="337.45" y="121.70" font-family="Liberation Sans" font-weight="bold" font-style="italic" font-size="27.68" fill="#000" >I</text>
<text x="346.87" y="121.81" font-family="Liberation Sans" font-weight="bold" font-style="normal" font-size="18.17" fill="#000" >cc</text>
<text x="309.72" y="351.70" font-family="Liberation Sans" font-weight="bold" font-style="italic" font-size="28.55" fill="#000" >V</text>
<text x="329.32" y="351.70" font-family="Liberation Sans" font-weight="bold" font-style="normal" font-size="17.80" fill="#000" >th-</text>
<text x="352.24" y="351.70" font-family="Liberation Sans" font-weight="bold" font-style="normal" font-size="15.90" fill="#000" >TS</text>
<text x="449.18" y="30.59" font-family="Liberation Sans" font-weight="bold" font-style="normal" font-size="41.50" fill="#000" >b</text>
<defs><clipPath id="ic"><rect x="523.2" y="75.3" width="228.19999999999993" height="182.2"/></clipPath><filter id="bl6" x="-50%" y="-50%" width="200%" height="200%"><feGaussianBlur stdDeviation="6"/></filter><filter id="bl3" x="-50%" y="-50%" width="200%" height="200%"><feGaussianBlur stdDeviation="3"/></filter><filter id="bl10" x="-50%" y="-50%" width="200%" height="200%"><feGaussianBlur stdDeviation="10"/></filter><linearGradient id="tem" x1="0" y1="0" x2="0" y2="1"><stop offset="0" stop-color="#e2e2e2"/><stop offset="0.3" stop-color="#ececec"/><stop offset="0.37" stop-color="#e4e4e4"/><stop offset="0.44" stop-color="#a0a0a0"/><stop offset="0.5" stop-color="#383838"/><stop offset="0.64" stop-color="#2e2e2e"/><stop offset="0.7" stop-color="#b8b8b8"/><stop offset="0.74" stop-color="#d2d2d2"/><stop offset="1" stop-color="#d8d8d8"/></linearGradient></defs>
<g clip-path="url(#ic)">
<rect x="523.2" y="75.3" width="228.19999999999993" height="182.2" fill="#dedede"/>
<defs><filter id="bl4" x="-50%" y="-50%" width="200%" height="200%"><feGaussianBlur stdDeviation="4"/></filter><filter id="bl2" x="-50%" y="-50%" width="200%" height="200%"><feGaussianBlur stdDeviation="2.2"/></filter></defs>
<g filter="url(#bl6)">
<rect x="503.20000000000005" y="88" width="270" height="70" fill="#e8e8e8"/>
<rect x="503.20000000000005" y="60" width="270" height="30" fill="#d9d9d9"/>
<ellipse cx="548" cy="128" rx="22" ry="14" fill="#f7f7f7"/>
<ellipse cx="585" cy="130" rx="20" ry="16" fill="#fbfbfb"/>
<ellipse cx="610" cy="120" rx="12" ry="26" fill="#fdfdfd"/>
<ellipse cx="565" cy="105" rx="18" ry="10" fill="#ededed"/>
<ellipse cx="700" cy="133" rx="26" ry="10" fill="#f8f8f8"/>
<ellipse cx="735" cy="128" rx="12" ry="10" fill="#f2f2f2"/>
<ellipse cx="680" cy="110" rx="14" ry="10" fill="#efefef"/>
<ellipse cx="633" cy="100" rx="8" ry="30" fill="#c9c9c9"/>
<ellipse cx="655" cy="88" rx="14" ry="12" fill="#d3d3d3"/>
<ellipse cx="740" cy="95" rx="12" ry="18" fill="#d4d4d4"/>
<ellipse cx="712" cy="90" rx="10" ry="10" fill="#dcdcdc"/>
<ellipse cx="530" cy="95" rx="10" ry="12" fill="#d8d8d8"/>
<ellipse cx="590" cy="90" rx="12" ry="8" fill="#e0e0e0"/>
<ellipse cx="560" cy="140" rx="25" ry="8" fill="#f0f0f0"/>
</g>
<g filter="url(#bl4)">
<path d="M510,160 L523,156 C538,153 545,140 556,140 C566,140 568,152 578,155 C590,158 596,150 610,148 C630,145 650,142 670,146 C685,150 690,156 705,156 C715,156 718,146 729,145 C740,145 745,152 760,154 L760,200 L510,200 Z" fill="#8c8c8c"/>
</g>
<g filter="url(#bl2)">
<path d="M510,160 L523,159 C535,157 540,150 550,150 C560,150 563,159 575,162 C590,164 605,163 620,162 C635,160 650,155 665,156 C680,158 690,161 705,160 C715,159 718,151 729,151 C740,151 744,157 760,158 L760,190 C700,189 640,188 600,189 C560,190 540,190 510,190 Z" fill="#383838"/>
<rect x="515" y="168" width="245" height="18" fill="#303030"/>
<ellipse cx="547" cy="158" rx="9" ry="5" fill="#1a1a1a"/>
<ellipse cx="729" cy="157" rx="9" ry="5" fill="#1a1a1a"/>
</g>
<g filter="url(#bl4)">
<rect x="513.2" y="195" width="250" height="70" fill="#d7d7d7"/>
<rect x="513.2" y="193" width="250" height="10" fill="#cbcbcb"/>
<ellipse cx="530.2" cy="235.7" rx="4" ry="18.1" fill="#e0e0e0"/>
<ellipse cx="540.8" cy="228.3" rx="4" ry="15.0" fill="#cdcdcd"/>
<ellipse cx="560.9" cy="238.2" rx="4" ry="18.3" fill="#e0e0e0"/>
<ellipse cx="573.4" cy="241.2" rx="4" ry="16.8" fill="#cdcdcd"/>
<ellipse cx="588.7" cy="218.0" rx="4" ry="10.3" fill="#e0e0e0"/>
<ellipse cx="598.8" cy="222.6" rx="4" ry="11.0" fill="#cdcdcd"/>
<ellipse cx="618.9" cy="229.5" rx="4" ry="16.3" fill="#e0e0e0"/>
<ellipse cx="631.7" cy="233.8" rx="4" ry="14.9" fill="#cdcdcd"/>
<ellipse cx="641.2" cy="237.9" rx="4" ry="17.5" fill="#e0e0e0"/>
<ellipse cx="659.7" cy="228.7" rx="4" ry="16.6" fill="#cdcdcd"/>
<ellipse cx="670.7" cy="235.8" rx="4" ry="12.5" fill="#e0e0e0"/>
<ellipse cx="685.3" cy="219.3" rx="4" ry="17.3" fill="#cdcdcd"/>
<ellipse cx="700.8" cy="235.9" rx="4" ry="19.8" fill="#e0e0e0"/>
<ellipse cx="717.7" cy="223.4" rx="4" ry="14.8" fill="#cdcdcd"/>
<ellipse cx="733.7" cy="236.8" rx="4" ry="16.2" fill="#e0e0e0"/>
<ellipse cx="747.8" cy="212.7" rx="4" ry="11.5" fill="#cdcdcd"/>
</g>
</g>
<text x="543.47" y="108.39" font-family="Liberation Sans" font-weight="bold" font-style="normal" font-size="23.17" fill="#000" >TE</text>
<text x="545.94" y="235.63" font-family="Liberation Sans" font-weight="bold" font-style="normal" font-size="23.67" fill="#000" >BE</text>
<text x="551.39" y="158.40" font-family="Liberation Sans" font-weight="bold" font-style="normal" font-size="17.10" fill="#fff" >Ag</text>
<text x="541.06" y="184.26" font-family="Liberation Sans" font-weight="bold" font-style="normal" font-size="19.13" fill="#fff" >HfO</text>
<text x="577.45" y="183.80" font-family="Liberation Sans" font-weight="bold" font-style="normal" font-size="11.70" fill="#fff" >2</text>
<rect x="694" y="237.3" width="28" height="4.3" fill="#000"/>
<line x1="648.4" y1="103.5" x2="648.4" y2="203" stroke="#d8262a" stroke-width="3"/>
<path d="M643.6,201 L653.2,201 L648.4,217.5 Z" fill="#d8262a"/>
<g clip-path="url(#pc)">
<polyline points="507.1,343.6 513.7,343.5 520.3,343.3 526.9,343.0 533.5,342.6 540.1,342.1 546.8,341.6 553.4,341.3 560.0,341.2 566.6,341.5 573.2,342.0 579.8,342.6 586.4,343.0 593.0,343.3 599.6,343.5 606.2,343.6 612.9,343.6 619.5,343.6 626.1,343.6 632.7,343.6 639.3,343.6 645.9,343.6 652.5,344.5 659.1,344.5 665.7,344.5 672.4,344.5 679.0,344.5 685.6,344.5 692.2,344.5 698.8,344.5 705.4,344.5 712.0,344.5 718.6,344.5 725.2,344.5 731.8,344.5 738.5,344.5 745.1,344.5 751.7,344.0 758.3,340.9 764.9,326.2 771.5,289.6 778.1,239.0 784.7,187.8 791.3,143.6 797.9,112.8 804.5,112.8 811.2,139.6 817.8,179.3 824.4,215.9 831.0,252.4 837.6,286.0 844.2,305.8 850.8,317.4 857.4,328.7 864.0,335.7 870.7,342.0 877.3,345.5 883.9,346.8 890.5,347.7 897.1,347.7 903.7,347.7 910.3,347.6 916.9,347.5 923.5,347.3 930.1,346.8 936.8,346.2 943.4,345.5 950.0,345.0 956.6,344.9 963.2,345.3 969.8,346.0 976.4,346.7 983.0,347.2 989.6,347.5 996.2,347.6 1002.9,347.7" fill="none" stroke="#2a52a6" stroke-width="2"/>
<rect x="502.2" y="338.7" width="9.8" height="9.8" rx="1" fill="#2a52a6"/>
<rect x="508.8" y="338.6" width="9.8" height="9.8" rx="1" fill="#2a52a6"/>
<rect x="515.4" y="338.4" width="9.8" height="9.8" rx="1" fill="#2a52a6"/>
<rect x="522.0" y="338.1" width="9.8" height="9.8" rx="1" fill="#2a52a6"/>
<rect x="528.6" y="337.7" width="9.8" height="9.8" rx="1" fill="#2a52a6"/>
<rect x="535.2" y="337.2" width="9.8" height="9.8" rx="1" fill="#2a52a6"/>
<rect x="541.9" y="336.7" width="9.8" height="9.8" rx="1" fill="#2a52a6"/>
<rect x="548.5" y="336.4" width="9.8" height="9.8" rx="1" fill="#2a52a6"/>
<rect x="555.1" y="336.3" width="9.8" height="9.8" rx="1" fill="#2a52a6"/>
<rect x="561.7" y="336.6" width="9.8" height="9.8" rx="1" fill="#2a52a6"/>
<rect x="568.3" y="337.1" width="9.8" height="9.8" rx="1" fill="#2a52a6"/>
<rect x="574.9" y="337.7" width="9.8" height="9.8" rx="1" fill="#2a52a6"/>
<rect x="581.5" y="338.1" width="9.8" height="9.8" rx="1" fill="#2a52a6"/>
<rect x="588.1" y="338.4" width="9.8" height="9.8" rx="1" fill="#2a52a6"/>
<rect x="594.7" y="338.6" width="9.8" height="9.8" rx="1" fill="#2a52a6"/>
<rect x="601.4" y="338.7" width="9.8" height="9.8" rx="1" fill="#2a52a6"/>
<rect x="608.0" y="338.7" width="9.8" height="9.8" rx="1" fill="#2a52a6"/>
<rect x="614.6" y="338.7" width="9.8" height="9.8" rx="1" fill="#2a52a6"/>
<rect x="621.2" y="338.7" width="9.8" height="9.8" rx="1" fill="#2a52a6"/>
<rect x="627.8" y="338.7" width="9.8" height="9.8" rx="1" fill="#2a52a6"/>
<rect x="634.4" y="338.7" width="9.8" height="9.8" rx="1" fill="#2a52a6"/>
<rect x="641.0" y="338.7" width="9.8" height="9.8" rx="1" fill="#2a52a6"/>
<rect x="647.6" y="339.6" width="9.8" height="9.8" rx="1" fill="#2a52a6"/>
<rect x="654.2" y="339.6" width="9.8" height="9.8" rx="1" fill="#2a52a6"/>
<rect x="660.8" y="339.6" width="9.8" height="9.8" rx="1" fill="#2a52a6"/>
<rect x="667.5" y="339.6" width="9.8" height="9.8" rx="1" fill="#2a52a6"/>
<rect x="674.1" y="339.6" width="9.8" height="9.8" rx="1" fill="#2a52a6"/>
<rect x="680.7" y="339.6" width="9.8" height="9.8" rx="1" fill="#2a52a6"/>
<rect x="687.3" y="339.6" width="9.8" height="9.8" rx="1" fill="#2a52a6"/>
<rect x="693.9" y="339.6" width="9.8" height="9.8" rx="1" fill="#2a52a6"/>
<rect x="700.5" y="339.6" width="9.8" height="9.8" rx="1" fill="#2a52a6"/>
<rect x="707.1" y="339.6" width="9.8" height="9.8" rx="1" fill="#2a52a6"/>
<rect x="713.7" y="339.6" width="9.8" height="9.8" rx="1" fill="#2a52a6"/>
<rect x="720.3" y="339.6" width="9.8" height="9.8" rx="1" fill="#2a52a6"/>
<rect x="726.9" y="339.6" width="9.8" height="9.8" rx="1" fill="#2a52a6"/>
<rect x="733.6" y="339.6" width="9.8" height="9.8" rx="1" fill="#2a52a6"/>
<rect x="740.2" y="339.6" width="9.8" height="9.8" rx="1" fill="#2a52a6"/>
<rect x="746.8" y="339.1" width="9.8" height="9.8" rx="1" fill="#2a52a6"/>
<rect x="753.4" y="336.0" width="9.8" height="9.8" rx="1" fill="#2a52a6"/>
<rect x="760.0" y="321.3" width="9.8" height="9.8" rx="1" fill="#2a52a6"/>
<rect x="766.6" y="284.7" width="9.8" height="9.8" rx="1" fill="#2a52a6"/>
<rect x="773.2" y="234.1" width="9.8" height="9.8" rx="1" fill="#2a52a6"/>
<rect x="779.8" y="182.9" width="9.8" height="9.8" rx="1" fill="#2a52a6"/>
<rect x="786.4" y="138.7" width="9.8" height="9.8" rx="1" fill="#2a52a6"/>
<rect x="793.0" y="107.9" width="9.8" height="9.8" rx="1" fill="#2a52a6"/>
<rect x="799.6" y="107.9" width="9.8" height="9.8" rx="1" fill="#2a52a6"/>
<rect x="806.3" y="134.7" width="9.8" height="9.8" rx="1" fill="#2a52a6"/>
<rect x="812.9" y="174.4" width="9.8" height="9.8" rx="1" fill="#2a52a6"/>
<rect x="819.5" y="211.0" width="9.8" height="9.8" rx="1" fill="#2a52a6"/>
<rect x="826.1" y="247.5" width="9.8" height="9.8" rx="1" fill="#2a52a6"/>
<rect x="832.7" y="281.1" width="9.8" height="9.8" rx="1" fill="#2a52a6"/>
<rect x="839.3" y="300.9" width="9.8" height="9.8" rx="1" fill="#2a52a6"/>
<rect x="845.9" y="312.5" width="9.8" height="9.8" rx="1" fill="#2a52a6"/>
<rect x="852.5" y="323.8" width="9.8" height="9.8" rx="1" fill="#2a52a6"/>
<rect x="859.1" y="330.8" width="9.8" height="9.8" rx="1" fill="#2a52a6"/>
<rect x="865.8" y="337.1" width="9.8" height="9.8" rx="1" fill="#2a52a6"/>
<rect x="872.4" y="340.6" width="9.8" height="9.8" rx="1" fill="#2a52a6"/>
<rect x="879.0" y="341.9" width="9.8" height="9.8" rx="1" fill="#2a52a6"/>
<rect x="885.6" y="342.8" width="9.8" height="9.8" rx="1" fill="#2a52a6"/>
<rect x="892.2" y="342.8" width="9.8" height="9.8" rx="1" fill="#2a52a6"/>
<rect x="898.8" y="342.8" width="9.8" height="9.8" rx="1" fill="#2a52a6"/>
<rect x="905.4" y="342.7" width="9.8" height="9.8" rx="1" fill="#2a52a6"/>
<rect x="912.0" y="342.6" width="9.8" height="9.8" rx="1" fill="#2a52a6"/>
<rect x="918.6" y="342.4" width="9.8" height="9.8" rx="1" fill="#2a52a6"/>
<rect x="925.2" y="341.9" width="9.8" height="9.8" rx="1" fill="#2a52a6"/>
<rect x="931.9" y="341.3" width="9.8" height="9.8" rx="1" fill="#2a52a6"/>
<rect x="938.5" y="340.6" width="9.8" height="9.8" rx="1" fill="#2a52a6"/>
<rect x="945.1" y="340.1" width="9.8" height="9.8" rx="1" fill="#2a52a6"/>
<rect x="951.7" y="340.0" width="9.8" height="9.8" rx="1" fill="#2a52a6"/>
<rect x="958.3" y="340.4" width="9.8" height="9.8" rx="1" fill="#2a52a6"/>
<rect x="964.9" y="341.1" width="9.8" height="9.8" rx="1" fill="#2a52a6"/>
<rect x="971.5" y="341.8" width="9.8" height="9.8" rx="1" fill="#2a52a6"/>
<rect x="978.1" y="342.3" width="9.8" height="9.8" rx="1" fill="#2a52a6"/>
<rect x="984.7" y="342.6" width="9.8" height="9.8" rx="1" fill="#2a52a6"/>
<rect x="991.3" y="342.7" width="9.8" height="9.8" rx="1" fill="#2a52a6"/>
<rect x="998.0" y="342.8" width="9.8" height="9.8" rx="1" fill="#2a52a6"/>
<polyline points="507.1,358.7 513.7,358.7 520.3,358.6 526.9,358.5 533.5,358.3 540.1,358.2 546.8,358.1 553.4,358.0 560.0,358.0 566.6,358.1 573.2,358.2 579.8,358.4 586.4,358.5 593.0,358.6 599.6,358.7 606.2,358.8 612.9,358.8 619.5,358.8 626.1,358.8 632.7,358.8 639.3,358.8 645.9,358.2 652.5,357.3 659.1,356.0 665.7,354.5 672.4,353.7 679.0,352.9 685.6,350.5 692.2,347.3 698.8,339.3 705.4,333.0 712.0,326.6 718.6,322.6 725.2,319.7 731.8,321.8 738.5,320.7 745.1,317.8 751.7,313.0 758.3,309.0 764.9,301.9 771.5,297.9 778.1,305.9 784.7,316.2 791.3,328.2 797.9,343.0 804.5,353.7 811.2,356.0 817.8,356.6 824.4,356.2 831.0,355.6 837.6,355.5 844.2,355.8 850.8,356.2 857.4,356.6 864.0,356.8 870.7,356.9 877.3,357.1 883.9,357.4 890.5,357.6 897.1,357.6 903.7,357.6 910.3,357.6 916.9,357.6 923.5,357.6 930.1,357.6 936.8,357.6 943.4,357.6 950.0,357.6 956.6,357.6 963.2,357.6 969.8,357.6 976.4,357.6 983.0,357.6 989.6,357.6 996.2,357.6 1002.9,357.6" fill="none" stroke="#d9281f" stroke-width="2"/>
<circle cx="507.1" cy="358.7" r="5.8" fill="#d9281f"/>
<circle cx="513.7" cy="358.7" r="5.8" fill="#d9281f"/>
<circle cx="520.3" cy="358.6" r="5.8" fill="#d9281f"/>
<circle cx="526.9" cy="358.5" r="5.8" fill="#d9281f"/>
<circle cx="533.5" cy="358.3" r="5.8" fill="#d9281f"/>
<circle cx="540.1" cy="358.2" r="5.8" fill="#d9281f"/>
<circle cx="546.8" cy="358.1" r="5.8" fill="#d9281f"/>
<circle cx="553.4" cy="358.0" r="5.8" fill="#d9281f"/>
<circle cx="560.0" cy="358.0" r="5.8" fill="#d9281f"/>
<circle cx="566.6" cy="358.1" r="5.8" fill="#d9281f"/>
<circle cx="573.2" cy="358.2" r="5.8" fill="#d9281f"/>
<circle cx="579.8" cy="358.4" r="5.8" fill="#d9281f"/>
<circle cx="586.4" cy="358.5" r="5.8" fill="#d9281f"/>
<circle cx="593.0" cy="358.6" r="5.8" fill="#d9281f"/>
<circle cx="599.6" cy="358.7" r="5.8" fill="#d9281f"/>
<circle cx="606.2" cy="358.8" r="5.8" fill="#d9281f"/>
<circle cx="612.9" cy="358.8" r="5.8" fill="#d9281f"/>
<circle cx="619.5" cy="358.8" r="5.8" fill="#d9281f"/>
<circle cx="626.1" cy="358.8" r="5.8" fill="#d9281f"/>
<circle cx="632.7" cy="358.8" r="5.8" fill="#d9281f"/>
<circle cx="639.3" cy="358.8" r="5.8" fill="#d9281f"/>
<circle cx="645.9" cy="358.2" r="5.8" fill="#d9281f"/>
<circle cx="652.5" cy="357.3" r="5.8" fill="#d9281f"/>
<circle cx="659.1" cy="356.0" r="5.8" fill="#d9281f"/>
<circle cx="665.7" cy="354.5" r="5.8" fill="#d9281f"/>
<circle cx="672.4" cy="353.7" r="5.8" fill="#d9281f"/>
<circle cx="679.0" cy="352.9" r="5.8" fill="#d9281f"/>
<circle cx="685.6" cy="350.5" r="5.8" fill="#d9281f"/>
<circle cx="692.2" cy="347.3" r="5.8" fill="#d9281f"/>
<circle cx="698.8" cy="339.3" r="5.8" fill="#d9281f"/>
<circle cx="705.4" cy="333.0" r="5.8" fill="#d9281f"/>
<circle cx="712.0" cy="326.6" r="5.8" fill="#d9281f"/>
<circle cx="718.6" cy="322.6" r="5.8" fill="#d9281f"/>
<circle cx="725.2" cy="319.7" r="5.8" fill="#d9281f"/>
<circle cx="731.8" cy="321.8" r="5.8" fill="#d9281f"/>
<circle cx="738.5" cy="320.7" r="5.8" fill="#d9281f"/>
<circle cx="745.1" cy="317.8" r="5.8" fill="#d9281f"/>
<circle cx="751.7" cy="313.0" r="5.8" fill="#d9281f"/>
<circle cx="758.3" cy="309.0" r="5.8" fill="#d9281f"/>
<circle cx="764.9" cy="301.9" r="5.8" fill="#d9281f"/>
<circle cx="771.5" cy="297.9" r="5.8" fill="#d9281f"/>
<circle cx="778.1" cy="305.9" r="5.8" fill="#d9281f"/>
<circle cx="784.7" cy="316.2" r="5.8" fill="#d9281f"/>
<circle cx="791.3" cy="328.2" r="5.8" fill="#d9281f"/>
<circle cx="797.9" cy="343.0" r="5.8" fill="#d9281f"/>
<circle cx="804.5" cy="353.7" r="5.8" fill="#d9281f"/>
<circle cx="811.2" cy="356.0" r="5.8" fill="#d9281f"/>
<circle cx="817.8" cy="356.6" r="5.8" fill="#d9281f"/>
<circle cx="824.4" cy="356.2" r="5.8" fill="#d9281f"/>
<circle cx="831.0" cy="355.6" r="5.8" fill="#d9281f"/>
<circle cx="837.6" cy="355.5" r="5.8" fill="#d9281f"/>
<circle cx="844.2" cy="355.8" r="5.8" fill="#d9281f"/>
<circle cx="850.8" cy="356.2" r="5.8" fill="#d9281f"/>
<circle cx="857.4" cy="356.6" r="5.8" fill="#d9281f"/>
<circle cx="864.0" cy="356.8" r="5.8" fill="#d9281f"/>
<circle cx="870.7" cy="356.9" r="5.8" fill="#d9281f"/>
<circle cx="877.3" cy="357.1" r="5.8" fill="#d9281f"/>
<circle cx="883.9" cy="357.4" r="5.8" fill="#d9281f"/>
<circle cx="890.5" cy="357.6" r="5.8" fill="#d9281f"/>
<circle cx="897.1" cy="357.6" r="5.8" fill="#d9281f"/>
<circle cx="903.7" cy="357.6" r="5.8" fill="#d9281f"/>
<circle cx="910.3" cy="357.6" r="5.8" fill="#d9281f"/>
<circle cx="916.9" cy="357.6" r="5.8" fill="#d9281f"/>
<circle cx="923.5" cy="357.6" r="5.8" fill="#d9281f"/>
<circle cx="930.1" cy="357.6" r="5.8" fill="#d9281f"/>
<circle cx="936.8" cy="357.6" r="5.8" fill="#d9281f"/>
<circle cx="943.4" cy="357.6" r="5.8" fill="#d9281f"/>
<circle cx="950.0" cy="357.6" r="5.8" fill="#d9281f"/>
<circle cx="956.6" cy="357.6" r="5.8" fill="#d9281f"/>
<circle cx="963.2" cy="357.6" r="5.8" fill="#d9281f"/>
<circle cx="969.8" cy="357.6" r="5.8" fill="#d9281f"/>
<circle cx="976.4" cy="357.6" r="5.8" fill="#d9281f"/>
<circle cx="983.0" cy="357.6" r="5.8" fill="#d9281f"/>
<circle cx="989.6" cy="357.6" r="5.8" fill="#d9281f"/>
<circle cx="996.2" cy="357.6" r="5.8" fill="#d9281f"/>
<circle cx="1002.9" cy="357.6" r="5.8" fill="#d9281f"/>
<polyline points="507.1,360.5 513.7,360.5 520.3,360.5 526.9,360.5 533.5,360.5 540.1,360.5 546.8,360.5 553.4,360.5 560.0,360.5 566.6,360.5 573.2,360.5 579.8,360.5 586.4,360.5 593.0,360.5 599.6,360.5 606.2,360.5 612.9,360.5 619.5,360.5 626.1,360.5 632.7,360.5 639.3,360.5 645.9,360.5 652.5,360.5 659.1,360.5 665.7,360.5 672.4,360.5 679.0,360.5 685.6,360.5 692.2,360.5 698.8,360.5 705.4,360.5 712.0,360.5 718.6,360.5 725.2,360.5 731.8,360.5 738.5,360.5 745.1,360.5 751.7,360.5 758.3,360.5 764.9,360.5 771.5,352.4 778.1,318.9 784.7,279.5 791.3,234.1 797.9,186.9 804.5,156.4 811.2,154.9 817.8,154.9 824.4,170.7 831.0,188.4 837.6,206.1 844.2,220.4 850.8,255.5 857.4,284.5 864.0,315.2 870.7,336.6 877.3,353.7 883.9,360.5 890.5,360.5 897.1,360.5 903.7,360.5 910.3,360.5 916.9,360.5 923.5,360.5 930.1,360.5 936.8,360.5 943.4,360.5 950.0,360.5 956.6,360.5 963.2,360.5 969.8,360.5 976.4,360.5 983.0,360.5 989.6,360.5 996.2,360.5 1002.9,360.5" fill="none" stroke="#3c3c3c" stroke-width="2"/>
<path d="M507.1,355.3 L513.3,365.7 L500.9,365.7 Z" fill="#3c3c3c" stroke="#3c3c3c" stroke-width="0.8" stroke-linejoin="round"/>
<path d="M513.7,355.3 L519.9,365.7 L507.5,365.7 Z" fill="#3c3c3c" stroke="#3c3c3c" stroke-width="0.8" stroke-linejoin="round"/>
<path d="M520.3,355.3 L526.5,365.7 L514.1,365.7 Z" fill="#3c3c3c" stroke="#3c3c3c" stroke-width="0.8" stroke-linejoin="round"/>
<path d="M526.9,355.3 L533.1,365.7 L520.7,365.7 Z" fill="#3c3c3c" stroke="#3c3c3c" stroke-width="0.8" stroke-linejoin="round"/>
<path d="M533.5,355.3 L539.7,365.7 L527.3,365.7 Z" fill="#3c3c3c" stroke="#3c3c3c" stroke-width="0.8" stroke-linejoin="round"/>
<path d="M540.1,355.3 L546.4,365.7 L533.9,365.7 Z" fill="#3c3c3c" stroke="#3c3c3c" stroke-width="0.8" stroke-linejoin="round"/>
<path d="M546.8,355.3 L553.0,365.7 L540.6,365.7 Z" fill="#3c3c3c" stroke="#3c3c3c" stroke-width="0.8" stroke-linejoin="round"/>
<path d="M553.4,355.3 L559.6,365.7 L547.2,365.7 Z" fill="#3c3c3c" stroke="#3c3c3c" stroke-width="0.8" stroke-linejoin="round"/>
<path d="M560.0,355.3 L566.2,365.7 L553.8,365.7 Z" fill="#3c3c3c" stroke="#3c3c3c" stroke-width="0.8" stroke-linejoin="round"/>
<path d="M566.6,355.3 L572.8,365.7 L560.4,365.7 Z" fill="#3c3c3c" stroke="#3c3c3c" stroke-width="0.8" stroke-linejoin="round"/>
<path d="M573.2,355.3 L579.4,365.7 L567.0,365.7 Z" fill="#3c3c3c" stroke="#3c3c3c" stroke-width="0.8" stroke-linejoin="round"/>
<path d="M579.8,355.3 L586.0,365.7 L573.6,365.7 Z" fill="#3c3c3c" stroke="#3c3c3c" stroke-width="0.8" stroke-linejoin="round"/>
<path d="M586.4,355.3 L592.6,365.7 L580.2,365.7 Z" fill="#3c3c3c" stroke="#3c3c3c" stroke-width="0.8" stroke-linejoin="round"/>
<path d="M593.0,355.3 L599.2,365.7 L586.8,365.7 Z" fill="#3c3c3c" stroke="#3c3c3c" stroke-width="0.8" stroke-linejoin="round"/>
<path d="M599.6,355.3 L605.8,365.7 L593.4,365.7 Z" fill="#3c3c3c" stroke="#3c3c3c" stroke-width="0.8" stroke-linejoin="round"/>
<path d="M606.2,355.3 L612.5,365.7 L600.0,365.7 Z" fill="#3c3c3c" stroke="#3c3c3c" stroke-width="0.8" stroke-linejoin="round"/>
<path d="M612.9,355.3 L619.1,365.7 L606.7,365.7 Z" fill="#3c3c3c" stroke="#3c3c3c" stroke-width="0.8" stroke-linejoin="round"/>
<path d="M619.5,355.3 L625.7,365.7 L613.3,365.7 Z" fill="#3c3c3c" stroke="#3c3c3c" stroke-width="0.8" stroke-linejoin="round"/>
<path d="M626.1,355.3 L632.3,365.7 L619.9,365.7 Z" fill="#3c3c3c" stroke="#3c3c3c" stroke-width="0.8" stroke-linejoin="round"/>
<path d="M632.7,355.3 L638.9,365.7 L626.5,365.7 Z" fill="#3c3c3c" stroke="#3c3c3c" stroke-width="0.8" stroke-linejoin="round"/>
<path d="M639.3,355.3 L645.5,365.7 L633.1,365.7 Z" fill="#3c3c3c" stroke="#3c3c3c" stroke-width="0.8" stroke-linejoin="round"/>
<path d="M645.9,355.3 L652.1,365.7 L639.7,365.7 Z" fill="#3c3c3c" stroke="#3c3c3c" stroke-width="0.8" stroke-linejoin="round"/>
<path d="M652.5,355.3 L658.7,365.7 L646.3,365.7 Z" fill="#3c3c3c" stroke="#3c3c3c" stroke-width="0.8" stroke-linejoin="round"/>
<path d="M659.1,355.3 L665.3,365.7 L652.9,365.7 Z" fill="#3c3c3c" stroke="#3c3c3c" stroke-width="0.8" stroke-linejoin="round"/>
<path d="M665.7,355.3 L671.9,365.7 L659.5,365.7 Z" fill="#3c3c3c" stroke="#3c3c3c" stroke-width="0.8" stroke-linejoin="round"/>
<path d="M672.4,355.3 L678.6,365.7 L666.1,365.7 Z" fill="#3c3c3c" stroke="#3c3c3c" stroke-width="0.8" stroke-linejoin="round"/>
<path d="M679.0,355.3 L685.2,365.7 L672.8,365.7 Z" fill="#3c3c3c" stroke="#3c3c3c" stroke-width="0.8" stroke-linejoin="round"/>
<path d="M685.6,355.3 L691.8,365.7 L679.4,365.7 Z" fill="#3c3c3c" stroke="#3c3c3c" stroke-width="0.8" stroke-linejoin="round"/>
<path d="M692.2,355.3 L698.4,365.7 L686.0,365.7 Z" fill="#3c3c3c" stroke="#3c3c3c" stroke-width="0.8" stroke-linejoin="round"/>
<path d="M698.8,355.3 L705.0,365.7 L692.6,365.7 Z" fill="#3c3c3c" stroke="#3c3c3c" stroke-width="0.8" stroke-linejoin="round"/>
<path d="M705.4,355.3 L711.6,365.7 L699.2,365.7 Z" fill="#3c3c3c" stroke="#3c3c3c" stroke-width="0.8" stroke-linejoin="round"/>
<path d="M712.0,355.3 L718.2,365.7 L705.8,365.7 Z" fill="#3c3c3c" stroke="#3c3c3c" stroke-width="0.8" stroke-linejoin="round"/>
<path d="M718.6,355.3 L724.8,365.7 L712.4,365.7 Z" fill="#3c3c3c" stroke="#3c3c3c" stroke-width="0.8" stroke-linejoin="round"/>
<path d="M725.2,355.3 L731.4,365.7 L719.0,365.7 Z" fill="#3c3c3c" stroke="#3c3c3c" stroke-width="0.8" stroke-linejoin="round"/>
<path d="M731.8,355.3 L738.0,365.7 L725.6,365.7 Z" fill="#3c3c3c" stroke="#3c3c3c" stroke-width="0.8" stroke-linejoin="round"/>
<path d="M738.5,355.3 L744.7,365.7 L732.2,365.7 Z" fill="#3c3c3c" stroke="#3c3c3c" stroke-width="0.8" stroke-linejoin="round"/>
<path d="M745.1,355.3 L751.3,365.7 L738.9,365.7 Z" fill="#3c3c3c" stroke="#3c3c3c" stroke-width="0.8" stroke-linejoin="round"/>
<path d="M751.7,355.3 L757.9,365.7 L745.5,365.7 Z" fill="#3c3c3c" stroke="#3c3c3c" stroke-width="0.8" stroke-linejoin="round"/>
<path d="M758.3,355.3 L764.5,365.7 L752.1,365.7 Z" fill="#3c3c3c" stroke="#3c3c3c" stroke-width="0.8" stroke-linejoin="round"/>
<path d="M764.9,355.3 L771.1,365.7 L758.7,365.7 Z" fill="#3c3c3c" stroke="#3c3c3c" stroke-width="0.8" stroke-linejoin="round"/>
<path d="M771.5,347.2 L777.7,357.6 L765.3,357.6 Z" fill="#3c3c3c" stroke="#3c3c3c" stroke-width="0.8" stroke-linejoin="round"/>
<path d="M778.1,313.7 L784.3,324.1 L771.9,324.1 Z" fill="#3c3c3c" stroke="#3c3c3c" stroke-width="0.8" stroke-linejoin="round"/>
<path d="M784.7,274.3 L790.9,284.7 L778.5,284.7 Z" fill="#3c3c3c" stroke="#3c3c3c" stroke-width="0.8" stroke-linejoin="round"/>
<path d="M791.3,228.9 L797.5,239.3 L785.1,239.3 Z" fill="#3c3c3c" stroke="#3c3c3c" stroke-width="0.8" stroke-linejoin="round"/>
<path d="M797.9,181.7 L804.1,192.1 L791.7,192.1 Z" fill="#3c3c3c" stroke="#3c3c3c" stroke-width="0.8" stroke-linejoin="round"/>
<path d="M804.5,151.2 L810.8,161.6 L798.3,161.6 Z" fill="#3c3c3c" stroke="#3c3c3c" stroke-width="0.8" stroke-linejoin="round"/>
<path d="M811.2,149.7 L817.4,160.1 L805.0,160.1 Z" fill="#3c3c3c" stroke="#3c3c3c" stroke-width="0.8" stroke-linejoin="round"/>
<path d="M817.8,149.7 L824.0,160.1 L811.6,160.1 Z" fill="#3c3c3c" stroke="#3c3c3c" stroke-width="0.8" stroke-linejoin="round"/>
<path d="M824.4,165.5 L830.6,175.9 L818.2,175.9 Z" fill="#3c3c3c" stroke="#3c3c3c" stroke-width="0.8" stroke-linejoin="round"/>
<path d="M831.0,183.2 L837.2,193.6 L824.8,193.6 Z" fill="#3c3c3c" stroke="#3c3c3c" stroke-width="0.8" stroke-linejoin="round"/>
<path d="M837.6,200.9 L843.8,211.3 L831.4,211.3 Z" fill="#3c3c3c" stroke="#3c3c3c" stroke-width="0.8" stroke-linejoin="round"/>
<path d="M844.2,215.2 L850.4,225.6 L838.0,225.6 Z" fill="#3c3c3c" stroke="#3c3c3c" stroke-width="0.8" stroke-linejoin="round"/>
<path d="M850.8,250.3 L857.0,260.7 L844.6,260.7 Z" fill="#3c3c3c" stroke="#3c3c3c" stroke-width="0.8" stroke-linejoin="round"/>
<path d="M857.4,279.3 L863.6,289.7 L851.2,289.7 Z" fill="#3c3c3c" stroke="#3c3c3c" stroke-width="0.8" stroke-linejoin="round"/>
<path d="M864.0,310.0 L870.2,320.4 L857.8,320.4 Z" fill="#3c3c3c" stroke="#3c3c3c" stroke-width="0.8" stroke-linejoin="round"/>
<path d="M870.7,331.4 L876.9,341.8 L864.5,341.8 Z" fill="#3c3c3c" stroke="#3c3c3c" stroke-width="0.8" stroke-linejoin="round"/>
<path d="M877.3,348.5 L883.5,358.9 L871.1,358.9 Z" fill="#3c3c3c" stroke="#3c3c3c" stroke-width="0.8" stroke-linejoin="round"/>
<path d="M883.9,355.3 L890.1,365.7 L877.7,365.7 Z" fill="#3c3c3c" stroke="#3c3c3c" stroke-width="0.8" stroke-linejoin="round"/>
<path d="M890.5,355.3 L896.7,365.7 L884.3,365.7 Z" fill="#3c3c3c" stroke="#3c3c3c" stroke-width="0.8" stroke-linejoin="round"/>
<path d="M897.1,355.3 L903.3,365.7 L890.9,365.7 Z" fill="#3c3c3c" stroke="#3c3c3c" stroke-width="0.8" stroke-linejoin="round"/>
<path d="M903.7,355.3 L909.9,365.7 L897.5,365.7 Z" fill="#3c3c3c" stroke="#3c3c3c" stroke-width="0.8" stroke-linejoin="round"/>
<path d="M910.3,355.3 L916.5,365.7 L904.1,365.7 Z" fill="#3c3c3c" stroke="#3c3c3c" stroke-width="0.8" stroke-linejoin="round"/>
<path d="M916.9,355.3 L923.1,365.7 L910.7,365.7 Z" fill="#3c3c3c" stroke="#3c3c3c" stroke-width="0.8" stroke-linejoin="round"/>
<path d="M923.5,355.3 L929.7,365.7 L917.3,365.7 Z" fill="#3c3c3c" stroke="#3c3c3c" stroke-width="0.8" stroke-linejoin="round"/>
<path d="M930.1,355.3 L936.3,365.7 L923.9,365.7 Z" fill="#3c3c3c" stroke="#3c3c3c" stroke-width="0.8" stroke-linejoin="round"/>
<path d="M936.8,355.3 L943.0,365.7 L930.5,365.7 Z" fill="#3c3c3c" stroke="#3c3c3c" stroke-width="0.8" stroke-linejoin="round"/>
<path d="M943.4,355.3 L949.6,365.7 L937.2,365.7 Z" fill="#3c3c3c" stroke="#3c3c3c" stroke-width="0.8" stroke-linejoin="round"/>
<path d="M950.0,355.3 L956.2,365.7 L943.8,365.7 Z" fill="#3c3c3c" stroke="#3c3c3c" stroke-width="0.8" stroke-linejoin="round"/>
<path d="M956.6,355.3 L962.8,365.7 L950.4,365.7 Z" fill="#3c3c3c" stroke="#3c3c3c" stroke-width="0.8" stroke-linejoin="round"/>
<path d="M963.2,355.3 L969.4,365.7 L957.0,365.7 Z" fill="#3c3c3c" stroke="#3c3c3c" stroke-width="0.8" stroke-linejoin="round"/>
<path d="M969.8,355.3 L976.0,365.7 L963.6,365.7 Z" fill="#3c3c3c" stroke="#3c3c3c" stroke-width="0.8" stroke-linejoin="round"/>
<path d="M976.4,355.3 L982.6,365.7 L970.2,365.7 Z" fill="#3c3c3c" stroke="#3c3c3c" stroke-width="0.8" stroke-linejoin="round"/>
<path d="M983.0,355.3 L989.2,365.7 L976.8,365.7 Z" fill="#3c3c3c" stroke="#3c3c3c" stroke-width="0.8" stroke-linejoin="round"/>
<path d="M989.6,355.3 L995.8,365.7 L983.4,365.7 Z" fill="#3c3c3c" stroke="#3c3c3c" stroke-width="0.8" stroke-linejoin="round"/>
<path d="M996.2,355.3 L1002.4,365.7 L990.0,365.7 Z" fill="#3c3c3c" stroke="#3c3c3c" stroke-width="0.8" stroke-linejoin="round"/>
<path d="M1002.9,355.3 L1009.1,365.7 L996.6,365.7 Z" fill="#3c3c3c" stroke="#3c3c3c" stroke-width="0.8" stroke-linejoin="round"/>
</g>
<defs><clipPath id="pc"><rect x="506.4" y="36.1" width="495.9" height="379.9"/></clipPath></defs>
<rect x="506.4" y="36.1" width="495.9" height="379.9" fill="none" stroke="#000" stroke-width="2"/>
<line x1="507.00" y1="416" x2="507.00" y2="420.7" stroke="#000" stroke-width="1.8"/>
<line x1="589.55" y1="416" x2="589.55" y2="424.8" stroke="#000" stroke-width="1.8"/>
<line x1="672.10" y1="416" x2="672.10" y2="420.7" stroke="#000" stroke-width="1.8"/>
<line x1="754.65" y1="416" x2="754.65" y2="424.8" stroke="#000" stroke-width="1.8"/>
<line x1="837.20" y1="416" x2="837.20" y2="420.7" stroke="#000" stroke-width="1.8"/>
<line x1="919.75" y1="416" x2="919.75" y2="424.8" stroke="#000" stroke-width="1.8"/>
<line x1="1002.30" y1="416" x2="1002.30" y2="420.7" stroke="#000" stroke-width="1.8"/>
<text x="570.50" y="457.40" font-family="Liberation Sans" font-weight="bold" font-style="normal" font-size="28.00" fill="#000" >50</text>
<text x="735.82" y="456.32" font-family="Liberation Sans" font-weight="bold" font-style="normal" font-size="28.00" fill="#000" >75</text>
<path d="M903.54,436.70 L907.23,436.70 L907.23,456.10 L903.54,456.10 L903.54,442.52 L898.50,442.52 L898.50,439.80 Q902.38,439.42 903.54,436.70 Z" fill="#000"/>
<text x="912.34" y="456.10" font-family="Liberation Sans" font-weight="bold" font-style="normal" font-size="28.00" fill="#000" >00</text>
<text x="679.91" y="495.94" font-family="Liberation Sans" font-weight="bold" font-style="normal" font-size="28.00" fill="#000" >Position (nm)</text>
<text x="476.44" y="314.57" font-family="Liberation Sans" font-weight="bold" font-style="normal" font-size="28.00" fill="#000" transform="rotate(-90 476.44 314.57)">Intensity (a.u.)</text>
<rect x="880.7" y="67.8" width="97.7" height="137.4" fill="#fff" stroke="#999" stroke-width="1.2"/>
<circle cx="902.8" cy="93" r="6.8" fill="#d9281f"/>
<rect x="896.8" y="133" width="12.2" height="12.2" rx="1.5" fill="#2a52a6"/>
<path d="M902.8,173.6 L910.6,187.4 L895,187.4 Z" fill="#3c3c3c" stroke="#3c3c3c" stroke-width="1" stroke-linejoin="round"/>
<text x="922.16" y="102.30" font-family="Liberation Sans" font-weight="bold" font-style="normal" font-size="28.00" fill="#000" >Ag</text>
<text x="921.04" y="146.70" font-family="Liberation Sans" font-weight="bold" font-style="normal" font-size="28.00" fill="#000" >Hf</text>
<text x="923.93" y="191.10" font-family="Liberation Sans" font-weight="bold" font-style="normal" font-size="28.00" fill="#000" >O</text>
<text x="-1.89" y="564.30" font-family="Liberation Sans" font-weight="bold" font-style="normal" font-size="43.00" fill="#000" >c</text>
<text x="212.43" y="572.06" font-family="Liberation Sans" font-weight="bold" font-style="normal" font-size="27.48" fill="#000" >TS is ON</text>
<text x="791.92" y="572.66" font-family="Liberation Sans" font-weight="bold" font-style="normal" font-size="27.62" fill="#000" >TS is OFF</text>
<text x="68.86" y="662.80" font-family="Liberation Sans" font-weight="bold" font-style="normal" font-size="28.15" fill="#000" >Au</text>
<text x="68.86" y="703.30" font-family="Liberation Sans" font-weight="bold" font-style="normal" font-size="28.15" fill="#000" >Ag</text>
<text x="72.34" y="873.68" font-family="Liberation Sans" font-weight="bold" font-style="normal" font-size="28.55" fill="#000" >Au</text>
<text x="58.19" y="779.92" font-family="Liberation Sans" font-weight="bold" font-style="normal" font-size="28.66" fill="#000" >HfO</text>
<text x="110.89" y="777.50" font-family="Liberation Sans" font-weight="bold" font-style="normal" font-size="17.00" fill="#000" >2</text>
<text x="478.97" y="633.03" font-family="Liberation Sans" font-weight="bold" font-style="normal" font-size="27.57" fill="#000" >Ag filament</text>
<text x="490.24" y="680.64" font-family="Liberation Sans" font-weight="bold" font-style="normal" font-size="28.00" fill="#000" >Formation</text>
<text x="505.07" y="868.62" font-family="Liberation Sans" font-weight="bold" font-style="normal" font-size="27.56" fill="#000" >Rupture</text>
<defs><linearGradient id="ab" x1="0" y1="0" x2="1" y2="0"><stop offset="0" stop-color="#2e78bb"/><stop offset="0.45" stop-color="#7aaed8"/><stop offset="1" stop-color="#f2f7fc"/></linearGradient><linearGradient id="ar" x1="0" y1="0" x2="1" y2="0"><stop offset="0" stop-color="#ffffff"/><stop offset="0.55" stop-color="#8a8080"/><stop offset="1" stop-color="#2a2020"/></linearGradient></defs>
<path d="M460.2,732.7 L540.6,712.4 L540.6,722.2 L657.1,722.2 L657.1,742.5 L540.6,742.5 L540.6,752.3 Z" fill="url(#ab)" stroke="#231610" stroke-width="2.2" stroke-linejoin="miter"/>
<path d="M463.5,793.1 L581,793.1 L581,782.7 L660.4,802.9 L581,822.5 L581,813 L463.5,813 Z" fill="url(#ar)" stroke="#6e3c0c" stroke-width="2.3" stroke-linejoin="miter"/>
<rect x="130.3" y="603.8" width="271.5" height="77.30000000000007" fill="#f5b22d"/>
<rect x="130.3" y="835.7" width="271.5" height="82.09999999999991" fill="#f5b22d"/>
<rect x="130.3" y="681.1" width="271.5" height="19.399999999999977" fill="#c9c9c9"/>
<rect x="130.8" y="700.5" width="270.5" height="135.20000000000005" fill="#f1f1f1" stroke="#a0a0a0" stroke-width="1"/>
<defs><radialGradient id="cg"><stop offset="0" stop-color="#f2f2f2"/><stop offset="0.4" stop-color="#c4c4c4"/><stop offset="1" stop-color="#969696"/></radialGradient></defs>
<circle cx="133.4" cy="683.8" r="2.6" fill="url(#cg)" stroke="#3a3030" stroke-width="1.35"/>
<circle cx="140.2" cy="683.8" r="2.6" fill="url(#cg)" stroke="#3a3030" stroke-width="1.35"/>
<circle cx="147.0" cy="683.8" r="2.6" fill="url(#cg)" stroke="#3a3030" stroke-width="1.35"/>
<circle cx="153.7" cy="683.8" r="2.6" fill="url(#cg)" stroke="#3a3030" stroke-width="1.35"/>
<circle cx="160.5" cy="683.8" r="2.6" fill="url(#cg)" stroke="#3a3030" stroke-width="1.35"/>
<circle cx="167.3" cy="683.8" r="2.6" fill="url(#cg)" stroke="#3a3030" stroke-width="1.35"/>
<circle cx="174.1" cy="683.8" r="2.6" fill="url(#cg)" stroke="#3a3030" stroke-width="1.35"/>
<circle cx="180.9" cy="683.8" r="2.6" fill="url(#cg)" stroke="#3a3030" stroke-width="1.35"/>
<circle cx="187.6" cy="683.8" r="2.6" fill="url(#cg)" stroke="#3a3030" stroke-width="1.35"/>
<circle cx="194.4" cy="683.8" r="2.6" fill="url(#cg)" stroke="#3a3030" stroke-width="1.35"/>
<circle cx="201.2" cy="683.8" r="2.6" fill="url(#cg)" stroke="#3a3030" stroke-width="1.35"/>
<circle cx="208.0" cy="683.8" r="2.6" fill="url(#cg)" stroke="#3a3030" stroke-width="1.35"/>
<circle cx="214.8" cy="683.8" r="2.6" fill="url(#cg)" stroke="#3a3030" stroke-width="1.35"/>
<circle cx="221.5" cy="683.8" r="2.6" fill="url(#cg)" stroke="#3a3030" stroke-width="1.35"/>
<circle cx="228.3" cy="683.8" r="2.6" fill="url(#cg)" stroke="#3a3030" stroke-width="1.35"/>
<circle cx="235.1" cy="683.8" r="2.6" fill="url(#cg)" stroke="#3a3030" stroke-width="1.35"/>
<circle cx="241.9" cy="683.8" r="2.6" fill="url(#cg)" stroke="#3a3030" stroke-width="1.35"/>
<circle cx="248.7" cy="683.8" r="2.6" fill="url(#cg)" stroke="#3a3030" stroke-width="1.35"/>
<circle cx="255.4" cy="683.8" r="2.6" fill="url(#cg)" stroke="#3a3030" stroke-width="1.35"/>
<circle cx="262.2" cy="683.8" r="2.6" fill="url(#cg)" stroke="#3a3030" stroke-width="1.35"/>
<circle cx="269.0" cy="683.8" r="2.6" fill="url(#cg)" stroke="#3a3030" stroke-width="1.35"/>
<circle cx="275.8" cy="683.8" r="2.6" fill="url(#cg)" stroke="#3a3030" stroke-width="1.35"/>
<circle cx="282.6" cy="683.8" r="2.6" fill="url(#cg)" stroke="#3a3030" stroke-width="1.35"/>
<circle cx="289.3" cy="683.8" r="2.6" fill="url(#cg)" stroke="#3a3030" stroke-width="1.35"/>
<circle cx="296.1" cy="683.8" r="2.6" fill="url(#cg)" stroke="#3a3030" stroke-width="1.35"/>
<circle cx="302.9" cy="683.8" r="2.6" fill="url(#cg)" stroke="#3a3030" stroke-width="1.35"/>
<circle cx="309.7" cy="683.8" r="2.6" fill="url(#cg)" stroke="#3a3030" stroke-width="1.35"/>
<circle cx="316.5" cy="683.8" r="2.6" fill="url(#cg)" stroke="#3a3030" stroke-width="1.35"/>
<circle cx="323.2" cy="683.8" r="2.6" fill="url(#cg)" stroke="#3a3030" stroke-width="1.35"/>
<circle cx="330.0" cy="683.8" r="2.6" fill="url(#cg)" stroke="#3a3030" stroke-width="1.35"/>
<circle cx="336.8" cy="683.8" r="2.6" fill="url(#cg)" stroke="#3a3030" stroke-width="1.35"/>
<circle cx="343.6" cy="683.8" r="2.6" fill="url(#cg)" stroke="#3a3030" stroke-width="1.35"/>
<circle cx="350.4" cy="683.8" r="2.6" fill="url(#cg)" stroke="#3a3030" stroke-width="1.35"/>
<circle cx="357.1" cy="683.8" r="2.6" fill="url(#cg)" stroke="#3a3030" stroke-width="1.35"/>
<circle cx="363.9" cy="683.8" r="2.6" fill="url(#cg)" stroke="#3a3030" stroke-width="1.35"/>
<circle cx="370.7" cy="683.8" r="2.6" fill="url(#cg)" stroke="#3a3030" stroke-width="1.35"/>
<circle cx="377.5" cy="683.8" r="2.6" fill="url(#cg)" stroke="#3a3030" stroke-width="1.35"/>
<circle cx="384.3" cy="683.8" r="2.6" fill="url(#cg)" stroke="#3a3030" stroke-width="1.35"/>
<circle cx="391.0" cy="683.8" r="2.6" fill="url(#cg)" stroke="#3a3030" stroke-width="1.35"/>
<circle cx="397.8" cy="683.8" r="2.6" fill="url(#cg)" stroke="#3a3030" stroke-width="1.35"/>
<circle cx="133.4" cy="690.6" r="2.6" fill="url(#cg)" stroke="#3a3030" stroke-width="1.35"/>
<circle cx="140.2" cy="690.6" r="2.6" fill="url(#cg)" stroke="#3a3030" stroke-width="1.35"/>
<circle cx="147.0" cy="690.6" r="2.6" fill="url(#cg)" stroke="#3a3030" stroke-width="1.35"/>
<circle cx="153.7" cy="690.6" r="2.6" fill="url(#cg)" stroke="#3a3030" stroke-width="1.35"/>
<circle cx="160.5" cy="690.6" r="2.6" fill="url(#cg)" stroke="#3a3030" stroke-width="1.35"/>
<circle cx="167.3" cy="690.6" r="2.6" fill="url(#cg)" stroke="#3a3030" stroke-width="1.35"/>
<circle cx="174.1" cy="690.6" r="2.6" fill="url(#cg)" stroke="#3a3030" stroke-width="1.35"/>
<circle cx="180.9" cy="690.6" r="2.6" fill="url(#cg)" stroke="#3a3030" stroke-width="1.35"/>
<circle cx="187.6" cy="690.6" r="2.6" fill="url(#cg)" stroke="#3a3030" stroke-width="1.35"/>
<circle cx="194.4" cy="690.6" r="2.6" fill="url(#cg)" stroke="#3a3030" stroke-width="1.35"/>
<circle cx="201.2" cy="690.6" r="2.6" fill="url(#cg)" stroke="#3a3030" stroke-width="1.35"/>
<circle cx="208.0" cy="690.6" r="2.6" fill="url(#cg)" stroke="#3a3030" stroke-width="1.35"/>
<circle cx="214.8" cy="690.6" r="2.6" fill="url(#cg)" stroke="#3a3030" stroke-width="1.35"/>
<circle cx="221.5" cy="690.6" r="2.6" fill="url(#cg)" stroke="#3a3030" stroke-width="1.35"/>
<circle cx="228.3" cy="690.6" r="2.6" fill="url(#cg)" stroke="#3a3030" stroke-width="1.35"/>
<circle cx="235.1" cy="690.6" r="2.6" fill="url(#cg)" stroke="#3a3030" stroke-width="1.35"/>
<circle cx="241.9" cy="690.6" r="2.6" fill="url(#cg)" stroke="#3a3030" stroke-width="1.35"/>
<circle cx="248.7" cy="690.6" r="2.6" fill="url(#cg)" stroke="#3a3030" stroke-width="1.35"/>
<circle cx="255.4" cy="690.6" r="2.6" fill="url(#cg)" stroke="#3a3030" stroke-width="1.35"/>
<circle cx="262.2" cy="690.6" r="2.6" fill="url(#cg)" stroke="#3a3030" stroke-width="1.35"/>
<circle cx="269.0" cy="690.6" r="2.6" fill="url(#cg)" stroke="#3a3030" stroke-width="1.35"/>
<circle cx="275.8" cy="690.6" r="2.6" fill="url(#cg)" stroke="#3a3030" stroke-width="1.35"/>
<circle cx="282.6" cy="690.6" r="2.6" fill="url(#cg)" stroke="#3a3030" stroke-width="1.35"/>
<circle cx="289.3" cy="690.6" r="2.6" fill="url(#cg)" stroke="#3a3030" stroke-width="1.35"/>
<circle cx="296.1" cy="690.6" r="2.6" fill="url(#cg)" stroke="#3a3030" stroke-width="1.35"/>
<circle cx="302.9" cy="690.6" r="2.6" fill="url(#cg)" stroke="#3a3030" stroke-width="1.35"/>
<circle cx="309.7" cy="690.6" r="2.6" fill="url(#cg)" stroke="#3a3030" stroke-width="1.35"/>
<circle cx="316.5" cy="690.6" r="2.6" fill="url(#cg)" stroke="#3a3030" stroke-width="1.35"/>
<circle cx="323.2" cy="690.6" r="2.6" fill="url(#cg)" stroke="#3a3030" stroke-width="1.35"/>
<circle cx="330.0" cy="690.6" r="2.6" fill="url(#cg)" stroke="#3a3030" stroke-width="1.35"/>
<circle cx="336.8" cy="690.6" r="2.6" fill="url(#cg)" stroke="#3a3030" stroke-width="1.35"/>
<circle cx="343.6" cy="690.6" r="2.6" fill="url(#cg)" stroke="#3a3030" stroke-width="1.35"/>
<circle cx="350.4" cy="690.6" r="2.6" fill="url(#cg)" stroke="#3a3030" stroke-width="1.35"/>
<circle cx="357.1" cy="690.6" r="2.6" fill="url(#cg)" stroke="#3a3030" stroke-width="1.35"/>
<circle cx="363.9" cy="690.6" r="2.6" fill="url(#cg)" stroke="#3a3030" stroke-width="1.35"/>
<circle cx="370.7" cy="690.6" r="2.6" fill="url(#cg)" stroke="#3a3030" stroke-width="1.35"/>
<circle cx="377.5" cy="690.6" r="2.6" fill="url(#cg)" stroke="#3a3030" stroke-width="1.35"/>
<circle cx="384.3" cy="690.6" r="2.6" fill="url(#cg)" stroke="#3a3030" stroke-width="1.35"/>
<circle cx="391.0" cy="690.6" r="2.6" fill="url(#cg)" stroke="#3a3030" stroke-width="1.35"/>
<circle cx="397.8" cy="690.6" r="2.6" fill="url(#cg)" stroke="#3a3030" stroke-width="1.35"/>
<circle cx="133.4" cy="697.4" r="2.6" fill="url(#cg)" stroke="#3a3030" stroke-width="1.35"/>
<circle cx="140.2" cy="697.4" r="2.6" fill="url(#cg)" stroke="#3a3030" stroke-width="1.35"/>
<circle cx="147.0" cy="697.4" r="2.6" fill="url(#cg)" stroke="#3a3030" stroke-width="1.35"/>
<circle cx="153.7" cy="697.4" r="2.6" fill="url(#cg)" stroke="#3a3030" stroke-width="1.35"/>
<circle cx="160.5" cy="697.4" r="2.6" fill="url(#cg)" stroke="#3a3030" stroke-width="1.35"/>
<circle cx="167.3" cy="697.4" r="2.6" fill="url(#cg)" stroke="#3a3030" stroke-width="1.35"/>
<circle cx="174.1" cy="697.4" r="2.6" fill="url(#cg)" stroke="#3a3030" stroke-width="1.35"/>
<circle cx="180.9" cy="697.4" r="2.6" fill="url(#cg)" stroke="#3a3030" stroke-width="1.35"/>
<circle cx="187.6" cy="697.4" r="2.6" fill="url(#cg)" stroke="#3a3030" stroke-width="1.35"/>
<circle cx="194.4" cy="697.4" r="2.6" fill="url(#cg)" stroke="#3a3030" stroke-width="1.35"/>
<circle cx="201.2" cy="697.4" r="2.6" fill="url(#cg)" stroke="#3a3030" stroke-width="1.35"/>
<circle cx="208.0" cy="697.4" r="2.6" fill="url(#cg)" stroke="#3a3030" stroke-width="1.35"/>
<circle cx="214.8" cy="697.4" r="2.6" fill="url(#cg)" stroke="#3a3030" stroke-width="1.35"/>
<circle cx="221.5" cy="697.4" r="2.6" fill="url(#cg)" stroke="#3a3030" stroke-width="1.35"/>
<circle cx="228.3" cy="697.4" r="2.6" fill="url(#cg)" stroke="#3a3030" stroke-width="1.35"/>
<circle cx="235.1" cy="697.4" r="2.6" fill="url(#cg)" stroke="#3a3030" stroke-width="1.35"/>
<circle cx="241.9" cy="697.4" r="2.6" fill="url(#cg)" stroke="#3a3030" stroke-width="1.35"/>
<circle cx="248.7" cy="697.4" r="2.6" fill="url(#cg)" stroke="#3a3030" stroke-width="1.35"/>
<circle cx="255.4" cy="697.4" r="2.6" fill="url(#cg)" stroke="#3a3030" stroke-width="1.35"/>
<circle cx="262.2" cy="697.4" r="2.6" fill="url(#cg)" stroke="#3a3030" stroke-width="1.35"/>
<circle cx="269.0" cy="697.4" r="2.6" fill="url(#cg)" stroke="#3a3030" stroke-width="1.35"/>
<circle cx="275.8" cy="697.4" r="2.6" fill="url(#cg)" stroke="#3a3030" stroke-width="1.35"/>
<circle cx="282.6" cy="697.4" r="2.6" fill="url(#cg)" stroke="#3a3030" stroke-width="1.35"/>
<circle cx="289.3" cy="697.4" r="2.6" fill="url(#cg)" stroke="#3a3030" stroke-width="1.35"/>
<circle cx="296.1" cy="697.4" r="2.6" fill="url(#cg)" stroke="#3a3030" stroke-width="1.35"/>
<circle cx="302.9" cy="697.4" r="2.6" fill="url(#cg)" stroke="#3a3030" stroke-width="1.35"/>
<circle cx="309.7" cy="697.4" r="2.6" fill="url(#cg)" stroke="#3a3030" stroke-width="1.35"/>
<circle cx="316.5" cy="697.4" r="2.6" fill="url(#cg)" stroke="#3a3030" stroke-width="1.35"/>
<circle cx="323.2" cy="697.4" r="2.6" fill="url(#cg)" stroke="#3a3030" stroke-width="1.35"/>
<circle cx="330.0" cy="697.4" r="2.6" fill="url(#cg)" stroke="#3a3030" stroke-width="1.35"/>
<circle cx="336.8" cy="697.4" r="2.6" fill="url(#cg)" stroke="#3a3030" stroke-width="1.35"/>
<circle cx="343.6" cy="697.4" r="2.6" fill="url(#cg)" stroke="#3a3030" stroke-width="1.35"/>
<circle cx="350.4" cy="697.4" r="2.6" fill="url(#cg)" stroke="#3a3030" stroke-width="1.35"/>
<circle cx="357.1" cy="697.4" r="2.6" fill="url(#cg)" stroke="#3a3030" stroke-width="1.35"/>
<circle cx="363.9" cy="697.4" r="2.6" fill="url(#cg)" stroke="#3a3030" stroke-width="1.35"/>
<circle cx="370.7" cy="697.4" r="2.6" fill="url(#cg)" stroke="#3a3030" stroke-width="1.35"/>
<circle cx="377.5" cy="697.4" r="2.6" fill="url(#cg)" stroke="#3a3030" stroke-width="1.35"/>
<circle cx="384.3" cy="697.4" r="2.6" fill="url(#cg)" stroke="#3a3030" stroke-width="1.35"/>
<circle cx="391.0" cy="697.4" r="2.6" fill="url(#cg)" stroke="#3a3030" stroke-width="1.35"/>
<circle cx="397.8" cy="697.4" r="2.6" fill="url(#cg)" stroke="#3a3030" stroke-width="1.35"/>
<circle cx="282.6" cy="704.1" r="2.6" fill="url(#cg)" stroke="#3a3030" stroke-width="1.35"/>
<circle cx="282.6" cy="710.9" r="2.6" fill="url(#cg)" stroke="#3a3030" stroke-width="1.35"/>
<circle cx="201.2" cy="717.7" r="2.6" fill="url(#cg)" stroke="#3a3030" stroke-width="1.35"/>
<circle cx="282.6" cy="717.7" r="2.6" fill="url(#cg)" stroke="#3a3030" stroke-width="1.35"/>
<circle cx="309.7" cy="717.7" r="2.6" fill="url(#cg)" stroke="#3a3030" stroke-width="1.35"/>
<circle cx="282.6" cy="724.5" r="2.6" fill="url(#cg)" stroke="#3a3030" stroke-width="1.35"/>
<circle cx="269.0" cy="731.3" r="2.6" fill="url(#cg)" stroke="#3a3030" stroke-width="1.35"/>
<circle cx="282.6" cy="731.3" r="2.6" fill="url(#cg)" stroke="#3a3030" stroke-width="1.35"/>
<circle cx="309.7" cy="731.3" r="2.6" fill="url(#cg)" stroke="#3a3030" stroke-width="1.35"/>
<circle cx="241.9" cy="738.0" r="2.6" fill="url(#cg)" stroke="#3a3030" stroke-width="1.35"/>
<circle cx="282.6" cy="738.0" r="2.6" fill="url(#cg)" stroke="#3a3030" stroke-width="1.35"/>
<circle cx="296.1" cy="738.0" r="2.6" fill="url(#cg)" stroke="#3a3030" stroke-width="1.35"/>
<circle cx="269.0" cy="744.8" r="2.6" fill="url(#cg)" stroke="#3a3030" stroke-width="1.35"/>
<circle cx="282.6" cy="744.8" r="2.6" fill="url(#cg)" stroke="#3a3030" stroke-width="1.35"/>
<circle cx="262.2" cy="751.6" r="2.6" fill="url(#cg)" stroke="#3a3030" stroke-width="1.35"/>
<circle cx="282.6" cy="751.6" r="2.6" fill="url(#cg)" stroke="#3a3030" stroke-width="1.35"/>
<circle cx="282.6" cy="758.4" r="2.6" fill="url(#cg)" stroke="#3a3030" stroke-width="1.35"/>
<circle cx="289.3" cy="758.4" r="2.6" fill="url(#cg)" stroke="#3a3030" stroke-width="1.35"/>
<circle cx="282.6" cy="765.2" r="2.6" fill="url(#cg)" stroke="#3a3030" stroke-width="1.35"/>
<circle cx="397.8" cy="765.2" r="2.6" fill="url(#cg)" stroke="#3a3030" stroke-width="1.35"/>
<circle cx="235.1" cy="771.9" r="2.6" fill="url(#cg)" stroke="#3a3030" stroke-width="1.35"/>
<circle cx="262.2" cy="771.9" r="2.6" fill="url(#cg)" stroke="#3a3030" stroke-width="1.35"/>
<circle cx="282.6" cy="771.9" r="2.6" fill="url(#cg)" stroke="#3a3030" stroke-width="1.35"/>
<circle cx="289.3" cy="771.9" r="2.6" fill="url(#cg)" stroke="#3a3030" stroke-width="1.35"/>
<circle cx="302.9" cy="771.9" r="2.6" fill="url(#cg)" stroke="#3a3030" stroke-width="1.35"/>
<circle cx="377.5" cy="771.9" r="2.6" fill="url(#cg)" stroke="#3a3030" stroke-width="1.35"/>
<circle cx="282.6" cy="778.7" r="2.6" fill="url(#cg)" stroke="#3a3030" stroke-width="1.35"/>
<circle cx="289.3" cy="778.7" r="2.6" fill="url(#cg)" stroke="#3a3030" stroke-width="1.35"/>
<circle cx="302.9" cy="778.7" r="2.6" fill="url(#cg)" stroke="#3a3030" stroke-width="1.35"/>
<circle cx="309.7" cy="778.7" r="2.6" fill="url(#cg)" stroke="#3a3030" stroke-width="1.35"/>
<circle cx="330.0" cy="778.7" r="2.6" fill="url(#cg)" stroke="#3a3030" stroke-width="1.35"/>
<circle cx="363.9" cy="778.7" r="2.6" fill="url(#cg)" stroke="#3a3030" stroke-width="1.35"/>
<circle cx="201.2" cy="785.5" r="2.6" fill="url(#cg)" stroke="#3a3030" stroke-width="1.35"/>
<circle cx="241.9" cy="785.5" r="2.6" fill="url(#cg)" stroke="#3a3030" stroke-width="1.35"/>
<circle cx="269.0" cy="785.5" r="2.6" fill="url(#cg)" stroke="#3a3030" stroke-width="1.35"/>
<circle cx="275.8" cy="785.5" r="2.6" fill="url(#cg)" stroke="#3a3030" stroke-width="1.35"/>
<circle cx="282.6" cy="785.5" r="2.6" fill="url(#cg)" stroke="#3a3030" stroke-width="1.35"/>
<circle cx="289.3" cy="785.5" r="2.6" fill="url(#cg)" stroke="#3a3030" stroke-width="1.35"/>
<circle cx="296.1" cy="785.5" r="2.6" fill="url(#cg)" stroke="#3a3030" stroke-width="1.35"/>
<circle cx="153.7" cy="792.3" r="2.6" fill="url(#cg)" stroke="#3a3030" stroke-width="1.35"/>
<circle cx="269.0" cy="792.3" r="2.6" fill="url(#cg)" stroke="#3a3030" stroke-width="1.35"/>
<circle cx="275.8" cy="792.3" r="2.6" fill="url(#cg)" stroke="#3a3030" stroke-width="1.35"/>
<circle cx="282.6" cy="792.3" r="2.6" fill="url(#cg)" stroke="#3a3030" stroke-width="1.35"/>
<circle cx="289.3" cy="792.3" r="2.6" fill="url(#cg)" stroke="#3a3030" stroke-width="1.35"/>
<circle cx="343.6" cy="792.3" r="2.6" fill="url(#cg)" stroke="#3a3030" stroke-width="1.35"/>
<circle cx="357.1" cy="792.3" r="2.6" fill="url(#cg)" stroke="#3a3030" stroke-width="1.35"/>
<circle cx="133.4" cy="799.1" r="2.6" fill="url(#cg)" stroke="#3a3030" stroke-width="1.35"/>
<circle cx="140.2" cy="799.1" r="2.6" fill="url(#cg)" stroke="#3a3030" stroke-width="1.35"/>
<circle cx="147.0" cy="799.1" r="2.6" fill="url(#cg)" stroke="#3a3030" stroke-width="1.35"/>
<circle cx="160.5" cy="799.1" r="2.6" fill="url(#cg)" stroke="#3a3030" stroke-width="1.35"/>
<circle cx="180.9" cy="799.1" r="2.6" fill="url(#cg)" stroke="#3a3030" stroke-width="1.35"/>
<circle cx="269.0" cy="799.1" r="2.6" fill="url(#cg)" stroke="#3a3030" stroke-width="1.35"/>
<circle cx="289.3" cy="799.1" r="2.6" fill="url(#cg)" stroke="#3a3030" stroke-width="1.35"/>
<circle cx="302.9" cy="799.1" r="2.6" fill="url(#cg)" stroke="#3a3030" stroke-width="1.35"/>
<circle cx="357.1" cy="799.1" r="2.6" fill="url(#cg)" stroke="#3a3030" stroke-width="1.35"/>
<circle cx="370.7" cy="799.1" r="2.6" fill="url(#cg)" stroke="#3a3030" stroke-width="1.35"/>
<circle cx="140.2" cy="805.8" r="2.6" fill="url(#cg)" stroke="#3a3030" stroke-width="1.35"/>
<circle cx="147.0" cy="805.8" r="2.6" fill="url(#cg)" stroke="#3a3030" stroke-width="1.35"/>
<circle cx="153.7" cy="805.8" r="2.6" fill="url(#cg)" stroke="#3a3030" stroke-width="1.35"/>
<circle cx="228.3" cy="805.8" r="2.6" fill="url(#cg)" stroke="#3a3030" stroke-width="1.35"/>
<circle cx="248.7" cy="805.8" r="2.6" fill="url(#cg)" stroke="#3a3030" stroke-width="1.35"/>
<circle cx="269.0" cy="805.8" r="2.6" fill="url(#cg)" stroke="#3a3030" stroke-width="1.35"/>
<circle cx="275.8" cy="805.8" r="2.6" fill="url(#cg)" stroke="#3a3030" stroke-width="1.35"/>
<circle cx="289.3" cy="805.8" r="2.6" fill="url(#cg)" stroke="#3a3030" stroke-width="1.35"/>
<circle cx="343.6" cy="805.8" r="2.6" fill="url(#cg)" stroke="#3a3030" stroke-width="1.35"/>
<circle cx="350.4" cy="805.8" r="2.6" fill="url(#cg)" stroke="#3a3030" stroke-width="1.35"/>
<circle cx="357.1" cy="805.8" r="2.6" fill="url(#cg)" stroke="#3a3030" stroke-width="1.35"/>
<circle cx="363.9" cy="805.8" r="2.6" fill="url(#cg)" stroke="#3a3030" stroke-width="1.35"/>
<circle cx="133.4" cy="812.6" r="2.6" fill="url(#cg)" stroke="#3a3030" stroke-width="1.35"/>
<circle cx="140.2" cy="812.6" r="2.6" fill="url(#cg)" stroke="#3a3030" stroke-width="1.35"/>
<circle cx="147.0" cy="812.6" r="2.6" fill="url(#cg)" stroke="#3a3030" stroke-width="1.35"/>
<circle cx="208.0" cy="812.6" r="2.6" fill="url(#cg)" stroke="#3a3030" stroke-width="1.35"/>
<circle cx="228.3" cy="812.6" r="2.6" fill="url(#cg)" stroke="#3a3030" stroke-width="1.35"/>
<circle cx="269.0" cy="812.6" r="2.6" fill="url(#cg)" stroke="#3a3030" stroke-width="1.35"/>
<circle cx="282.6" cy="812.6" r="2.6" fill="url(#cg)" stroke="#3a3030" stroke-width="1.35"/>
<circle cx="289.3" cy="812.6" r="2.6" fill="url(#cg)" stroke="#3a3030" stroke-width="1.35"/>
<circle cx="323.2" cy="812.6" r="2.6" fill="url(#cg)" stroke="#3a3030" stroke-width="1.35"/>
<circle cx="330.0" cy="812.6" r="2.6" fill="url(#cg)" stroke="#3a3030" stroke-width="1.35"/>
<circle cx="343.6" cy="812.6" r="2.6" fill="url(#cg)" stroke="#3a3030" stroke-width="1.35"/>
<circle cx="350.4" cy="812.6" r="2.6" fill="url(#cg)" stroke="#3a3030" stroke-width="1.35"/>
<circle cx="357.1" cy="812.6" r="2.6" fill="url(#cg)" stroke="#3a3030" stroke-width="1.35"/>
<circle cx="384.3" cy="812.6" r="2.6" fill="url(#cg)" stroke="#3a3030" stroke-width="1.35"/>
<circle cx="391.0" cy="812.6" r="2.6" fill="url(#cg)" stroke="#3a3030" stroke-width="1.35"/>
<circle cx="140.2" cy="819.4" r="2.6" fill="url(#cg)" stroke="#3a3030" stroke-width="1.35"/>
<circle cx="147.0" cy="819.4" r="2.6" fill="url(#cg)" stroke="#3a3030" stroke-width="1.35"/>
<circle cx="187.6" cy="819.4" r="2.6" fill="url(#cg)" stroke="#3a3030" stroke-width="1.35"/>
<circle cx="208.0" cy="819.4" r="2.6" fill="url(#cg)" stroke="#3a3030" stroke-width="1.35"/>
<circle cx="214.8" cy="819.4" r="2.6" fill="url(#cg)" stroke="#3a3030" stroke-width="1.35"/>
<circle cx="221.5" cy="819.4" r="2.6" fill="url(#cg)" stroke="#3a3030" stroke-width="1.35"/>
<circle cx="228.3" cy="819.4" r="2.6" fill="url(#cg)" stroke="#3a3030" stroke-width="1.35"/>
<circle cx="235.1" cy="819.4" r="2.6" fill="url(#cg)" stroke="#3a3030" stroke-width="1.35"/>
<circle cx="241.9" cy="819.4" r="2.6" fill="url(#cg)" stroke="#3a3030" stroke-width="1.35"/>
<circle cx="248.7" cy="819.4" r="2.6" fill="url(#cg)" stroke="#3a3030" stroke-width="1.35"/>
<circle cx="255.4" cy="819.4" r="2.6" fill="url(#cg)" stroke="#3a3030" stroke-width="1.35"/>
<circle cx="262.2" cy="819.4" r="2.6" fill="url(#cg)" stroke="#3a3030" stroke-width="1.35"/>
<circle cx="269.0" cy="819.4" r="2.6" fill="url(#cg)" stroke="#3a3030" stroke-width="1.35"/>
<circle cx="275.8" cy="819.4" r="2.6" fill="url(#cg)" stroke="#3a3030" stroke-width="1.35"/>
<circle cx="282.6" cy="819.4" r="2.6" fill="url(#cg)" stroke="#3a3030" stroke-width="1.35"/>
<circle cx="289.3" cy="819.4" r="2.6" fill="url(#cg)" stroke="#3a3030" stroke-width="1.35"/>
<circle cx="302.9" cy="819.4" r="2.6" fill="url(#cg)" stroke="#3a3030" stroke-width="1.35"/>
<circle cx="323.2" cy="819.4" r="2.6" fill="url(#cg)" stroke="#3a3030" stroke-width="1.35"/>
<circle cx="336.8" cy="819.4" r="2.6" fill="url(#cg)" stroke="#3a3030" stroke-width="1.35"/>
<circle cx="343.6" cy="819.4" r="2.6" fill="url(#cg)" stroke="#3a3030" stroke-width="1.35"/>
<circle cx="357.1" cy="819.4" r="2.6" fill="url(#cg)" stroke="#3a3030" stroke-width="1.35"/>
<circle cx="384.3" cy="819.4" r="2.6" fill="url(#cg)" stroke="#3a3030" stroke-width="1.35"/>
<circle cx="391.0" cy="819.4" r="2.6" fill="url(#cg)" stroke="#3a3030" stroke-width="1.35"/>
<circle cx="140.2" cy="826.2" r="2.6" fill="url(#cg)" stroke="#3a3030" stroke-width="1.35"/>
<circle cx="147.0" cy="826.2" r="2.6" fill="url(#cg)" stroke="#3a3030" stroke-width="1.35"/>
<circle cx="167.3" cy="826.2" r="2.6" fill="url(#cg)" stroke="#3a3030" stroke-width="1.35"/>
<circle cx="174.1" cy="826.2" r="2.6" fill="url(#cg)" stroke="#3a3030" stroke-width="1.35"/>
<circle cx="180.9" cy="826.2" r="2.6" fill="url(#cg)" stroke="#3a3030" stroke-width="1.35"/>
<circle cx="187.6" cy="826.2" r="2.6" fill="url(#cg)" stroke="#3a3030" stroke-width="1.35"/>
<circle cx="214.8" cy="826.2" r="2.6" fill="url(#cg)" stroke="#3a3030" stroke-width="1.35"/>
<circle cx="228.3" cy="826.2" r="2.6" fill="url(#cg)" stroke="#3a3030" stroke-width="1.35"/>
<circle cx="235.1" cy="826.2" r="2.6" fill="url(#cg)" stroke="#3a3030" stroke-width="1.35"/>
<circle cx="241.9" cy="826.2" r="2.6" fill="url(#cg)" stroke="#3a3030" stroke-width="1.35"/>
<circle cx="255.4" cy="826.2" r="2.6" fill="url(#cg)" stroke="#3a3030" stroke-width="1.35"/>
<circle cx="262.2" cy="826.2" r="2.6" fill="url(#cg)" stroke="#3a3030" stroke-width="1.35"/>
<circle cx="282.6" cy="826.2" r="2.6" fill="url(#cg)" stroke="#3a3030" stroke-width="1.35"/>
<circle cx="289.3" cy="826.2" r="2.6" fill="url(#cg)" stroke="#3a3030" stroke-width="1.35"/>
<circle cx="316.5" cy="826.2" r="2.6" fill="url(#cg)" stroke="#3a3030" stroke-width="1.35"/>
<circle cx="323.2" cy="826.2" r="2.6" fill="url(#cg)" stroke="#3a3030" stroke-width="1.35"/>
<circle cx="330.0" cy="826.2" r="2.6" fill="url(#cg)" stroke="#3a3030" stroke-width="1.35"/>
<circle cx="336.8" cy="826.2" r="2.6" fill="url(#cg)" stroke="#3a3030" stroke-width="1.35"/>
<circle cx="350.4" cy="826.2" r="2.6" fill="url(#cg)" stroke="#3a3030" stroke-width="1.35"/>
<circle cx="357.1" cy="826.2" r="2.6" fill="url(#cg)" stroke="#3a3030" stroke-width="1.35"/>
<circle cx="370.7" cy="826.2" r="2.6" fill="url(#cg)" stroke="#3a3030" stroke-width="1.35"/>
<circle cx="391.0" cy="826.2" r="2.6" fill="url(#cg)" stroke="#3a3030" stroke-width="1.35"/>
<circle cx="147.0" cy="833.0" r="2.6" fill="url(#cg)" stroke="#3a3030" stroke-width="1.35"/>
<circle cx="160.5" cy="833.0" r="2.6" fill="url(#cg)" stroke="#3a3030" stroke-width="1.35"/>
<circle cx="167.3" cy="833.0" r="2.6" fill="url(#cg)" stroke="#3a3030" stroke-width="1.35"/>
<circle cx="174.1" cy="833.0" r="2.6" fill="url(#cg)" stroke="#3a3030" stroke-width="1.35"/>
<circle cx="180.9" cy="833.0" r="2.6" fill="url(#cg)" stroke="#3a3030" stroke-width="1.35"/>
<circle cx="187.6" cy="833.0" r="2.6" fill="url(#cg)" stroke="#3a3030" stroke-width="1.35"/>
<circle cx="208.0" cy="833.0" r="2.6" fill="url(#cg)" stroke="#3a3030" stroke-width="1.35"/>
<circle cx="214.8" cy="833.0" r="2.6" fill="url(#cg)" stroke="#3a3030" stroke-width="1.35"/>
<circle cx="228.3" cy="833.0" r="2.6" fill="url(#cg)" stroke="#3a3030" stroke-width="1.35"/>
<circle cx="235.1" cy="833.0" r="2.6" fill="url(#cg)" stroke="#3a3030" stroke-width="1.35"/>
<circle cx="241.9" cy="833.0" r="2.6" fill="url(#cg)" stroke="#3a3030" stroke-width="1.35"/>
<circle cx="262.2" cy="833.0" r="2.6" fill="url(#cg)" stroke="#3a3030" stroke-width="1.35"/>
<circle cx="282.6" cy="833.0" r="2.6" fill="url(#cg)" stroke="#3a3030" stroke-width="1.35"/>
<circle cx="289.3" cy="833.0" r="2.6" fill="url(#cg)" stroke="#3a3030" stroke-width="1.35"/>
<circle cx="296.1" cy="833.0" r="2.6" fill="url(#cg)" stroke="#3a3030" stroke-width="1.35"/>
<circle cx="309.7" cy="833.0" r="2.6" fill="url(#cg)" stroke="#3a3030" stroke-width="1.35"/>
<circle cx="323.2" cy="833.0" r="2.6" fill="url(#cg)" stroke="#3a3030" stroke-width="1.35"/>
<circle cx="330.0" cy="833.0" r="2.6" fill="url(#cg)" stroke="#3a3030" stroke-width="1.35"/>
<circle cx="336.8" cy="833.0" r="2.6" fill="url(#cg)" stroke="#3a3030" stroke-width="1.35"/>
<circle cx="343.6" cy="833.0" r="2.6" fill="url(#cg)" stroke="#3a3030" stroke-width="1.35"/>
<circle cx="350.4" cy="833.0" r="2.6" fill="url(#cg)" stroke="#3a3030" stroke-width="1.35"/>
<circle cx="357.1" cy="833.0" r="2.6" fill="url(#cg)" stroke="#3a3030" stroke-width="1.35"/>
<circle cx="370.7" cy="833.0" r="2.6" fill="url(#cg)" stroke="#3a3030" stroke-width="1.35"/>
<circle cx="384.3" cy="833.0" r="2.6" fill="url(#cg)" stroke="#3a3030" stroke-width="1.35"/>
<circle cx="391.0" cy="833.0" r="2.6" fill="url(#cg)" stroke="#3a3030" stroke-width="1.35"/>
<rect x="718.4" y="604.6" width="272.1" height="76.79999999999995" fill="#f5b22d"/>
<rect x="718.4" y="835.5" width="272.1" height="82.29999999999995" fill="#f5b22d"/>
<rect x="718.4" y="681.4" width="272.1" height="20.0" fill="#c9c9c9"/>
<rect x="718.9" y="701.4" width="271.1" height="134.10000000000002" fill="#f1f1f1" stroke="#a0a0a0" stroke-width="1"/>
<defs><radialGradient id="cg"><stop offset="0" stop-color="#f2f2f2"/><stop offset="0.4" stop-color="#c4c4c4"/><stop offset="1" stop-color="#969696"/></radialGradient></defs>
<circle cx="722.2" cy="684.4" r="2.6" fill="url(#cg)" stroke="#3a3030" stroke-width="1.35"/>
<circle cx="729.0" cy="684.4" r="2.6" fill="url(#cg)" stroke="#3a3030" stroke-width="1.35"/>
<circle cx="735.8" cy="684.4" r="2.6" fill="url(#cg)" stroke="#3a3030" stroke-width="1.35"/>
<circle cx="742.5" cy="684.4" r="2.6" fill="url(#cg)" stroke="#3a3030" stroke-width="1.35"/>
<circle cx="749.3" cy="684.4" r="2.6" fill="url(#cg)" stroke="#3a3030" stroke-width="1.35"/>
<circle cx="756.1" cy="684.4" r="2.6" fill="url(#cg)" stroke="#3a3030" stroke-width="1.35"/>
<circle cx="762.9" cy="684.4" r="2.6" fill="url(#cg)" stroke="#3a3030" stroke-width="1.35"/>
<circle cx="769.7" cy="684.4" r="2.6" fill="url(#cg)" stroke="#3a3030" stroke-width="1.35"/>
<circle cx="776.4" cy="684.4" r="2.6" fill="url(#cg)" stroke="#3a3030" stroke-width="1.35"/>
<circle cx="783.2" cy="684.4" r="2.6" fill="url(#cg)" stroke="#3a3030" stroke-width="1.35"/>
<circle cx="790.0" cy="684.4" r="2.6" fill="url(#cg)" stroke="#3a3030" stroke-width="1.35"/>
<circle cx="796.8" cy="684.4" r="2.6" fill="url(#cg)" stroke="#3a3030" stroke-width="1.35"/>
<circle cx="803.6" cy="684.4" r="2.6" fill="url(#cg)" stroke="#3a3030" stroke-width="1.35"/>
<circle cx="810.3" cy="684.4" r="2.6" fill="url(#cg)" stroke="#3a3030" stroke-width="1.35"/>
<circle cx="817.1" cy="684.4" r="2.6" fill="url(#cg)" stroke="#3a3030" stroke-width="1.35"/>
<circle cx="823.9" cy="684.4" r="2.6" fill="url(#cg)" stroke="#3a3030" stroke-width="1.35"/>
<circle cx="830.7" cy="684.4" r="2.6" fill="url(#cg)" stroke="#3a3030" stroke-width="1.35"/>
<circle cx="837.5" cy="684.4" r="2.6" fill="url(#cg)" stroke="#3a3030" stroke-width="1.35"/>
<circle cx="844.2" cy="684.4" r="2.6" fill="url(#cg)" stroke="#3a3030" stroke-width="1.35"/>
<circle cx="851.0" cy="684.4" r="2.6" fill="url(#cg)" stroke="#3a3030" stroke-width="1.35"/>
<circle cx="857.8" cy="684.4" r="2.6" fill="url(#cg)" stroke="#3a3030" stroke-width="1.35"/>
<circle cx="864.6" cy="684.4" r="2.6" fill="url(#cg)" stroke="#3a3030" stroke-width="1.35"/>
<circle cx="871.4" cy="684.4" r="2.6" fill="url(#cg)" stroke="#3a3030" stroke-width="1.35"/>
<circle cx="878.1" cy="684.4" r="2.6" fill="url(#cg)" stroke="#3a3030" stroke-width="1.35"/>
<circle cx="884.9" cy="684.4" r="2.6" fill="url(#cg)" stroke="#3a3030" stroke-width="1.35"/>
<circle cx="891.7" cy="684.4" r="2.6" fill="url(#cg)" stroke="#3a3030" stroke-width="1.35"/>
<circle cx="898.5" cy="684.4" r="2.6" fill="url(#cg)" stroke="#3a3030" stroke-width="1.35"/>
<circle cx="905.3" cy="684.4" r="2.6" fill="url(#cg)" stroke="#3a3030" stroke-width="1.35"/>
<circle cx="912.0" cy="684.4" r="2.6" fill="url(#cg)" stroke="#3a3030" stroke-width="1.35"/>
<circle cx="918.8" cy="684.4" r="2.6" fill="url(#cg)" stroke="#3a3030" stroke-width="1.35"/>
<circle cx="925.6" cy="684.4" r="2.6" fill="url(#cg)" stroke="#3a3030" stroke-width="1.35"/>
<circle cx="932.4" cy="684.4" r="2.6" fill="url(#cg)" stroke="#3a3030" stroke-width="1.35"/>
<circle cx="939.2" cy="684.4" r="2.6" fill="url(#cg)" stroke="#3a3030" stroke-width="1.35"/>
<circle cx="945.9" cy="684.4" r="2.6" fill="url(#cg)" stroke="#3a3030" stroke-width="1.35"/>
<circle cx="952.7" cy="684.4" r="2.6" fill="url(#cg)" stroke="#3a3030" stroke-width="1.35"/>
<circle cx="959.5" cy="684.4" r="2.6" fill="url(#cg)" stroke="#3a3030" stroke-width="1.35"/>
<circle cx="966.3" cy="684.4" r="2.6" fill="url(#cg)" stroke="#3a3030" stroke-width="1.35"/>
<circle cx="973.1" cy="684.4" r="2.6" fill="url(#cg)" stroke="#3a3030" stroke-width="1.35"/>
<circle cx="979.8" cy="684.4" r="2.6" fill="url(#cg)" stroke="#3a3030" stroke-width="1.35"/>
<circle cx="986.6" cy="684.4" r="2.6" fill="url(#cg)" stroke="#3a3030" stroke-width="1.35"/>
<circle cx="722.2" cy="691.2" r="2.6" fill="url(#cg)" stroke="#3a3030" stroke-width="1.35"/>
<circle cx="729.0" cy="691.2" r="2.6" fill="url(#cg)" stroke="#3a3030" stroke-width="1.35"/>
<circle cx="735.8" cy="691.2" r="2.6" fill="url(#cg)" stroke="#3a3030" stroke-width="1.35"/>
<circle cx="742.5" cy="691.2" r="2.6" fill="url(#cg)" stroke="#3a3030" stroke-width="1.35"/>
<circle cx="749.3" cy="691.2" r="2.6" fill="url(#cg)" stroke="#3a3030" stroke-width="1.35"/>
<circle cx="756.1" cy="691.2" r="2.6" fill="url(#cg)" stroke="#3a3030" stroke-width="1.35"/>
<circle cx="762.9" cy="691.2" r="2.6" fill="url(#cg)" stroke="#3a3030" stroke-width="1.35"/>
<circle cx="769.7" cy="691.2" r="2.6" fill="url(#cg)" stroke="#3a3030" stroke-width="1.35"/>
<circle cx="776.4" cy="691.2" r="2.6" fill="url(#cg)" stroke="#3a3030" stroke-width="1.35"/>
<circle cx="783.2" cy="691.2" r="2.6" fill="url(#cg)" stroke="#3a3030" stroke-width="1.35"/>
<circle cx="790.0" cy="691.2" r="2.6" fill="url(#cg)" stroke="#3a3030" stroke-width="1.35"/>
<circle cx="796.8" cy="691.2" r="2.6" fill="url(#cg)" stroke="#3a3030" stroke-width="1.35"/>
<circle cx="803.6" cy="691.2" r="2.6" fill="url(#cg)" stroke="#3a3030" stroke-width="1.35"/>
<circle cx="810.3" cy="691.2" r="2.6" fill="url(#cg)" stroke="#3a3030" stroke-width="1.35"/>
<circle cx="817.1" cy="691.2" r="2.6" fill="url(#cg)" stroke="#3a3030" stroke-width="1.35"/>
<circle cx="823.9" cy="691.2" r="2.6" fill="url(#cg)" stroke="#3a3030" stroke-width="1.35"/>
<circle cx="830.7" cy="691.2" r="2.6" fill="url(#cg)" stroke="#3a3030" stroke-width="1.35"/>
<circle cx="837.5" cy="691.2" r="2.6" fill="url(#cg)" stroke="#3a3030" stroke-width="1.35"/>
<circle cx="844.2" cy="691.2" r="2.6" fill="url(#cg)" stroke="#3a3030" stroke-width="1.35"/>
<circle cx="851.0" cy="691.2" r="2.6" fill="url(#cg)" stroke="#3a3030" stroke-width="1.35"/>
<circle cx="857.8" cy="691.2" r="2.6" fill="url(#cg)" stroke="#3a3030" stroke-width="1.35"/>
<circle cx="864.6" cy="691.2" r="2.6" fill="url(#cg)" stroke="#3a3030" stroke-width="1.35"/>
<circle cx="871.4" cy="691.2" r="2.6" fill="url(#cg)" stroke="#3a3030" stroke-width="1.35"/>
<circle cx="878.1" cy="691.2" r="2.6" fill="url(#cg)" stroke="#3a3030" stroke-width="1.35"/>
<circle cx="884.9" cy="691.2" r="2.6" fill="url(#cg)" stroke="#3a3030" stroke-width="1.35"/>
<circle cx="891.7" cy="691.2" r="2.6" fill="url(#cg)" stroke="#3a3030" stroke-width="1.35"/>
<circle cx="898.5" cy="691.2" r="2.6" fill="url(#cg)" stroke="#3a3030" stroke-width="1.35"/>
<circle cx="905.3" cy="691.2" r="2.6" fill="url(#cg)" stroke="#3a3030" stroke-width="1.35"/>
<circle cx="912.0" cy="691.2" r="2.6" fill="url(#cg)" stroke="#3a3030" stroke-width="1.35"/>
<circle cx="918.8" cy="691.2" r="2.6" fill="url(#cg)" stroke="#3a3030" stroke-width="1.35"/>
<circle cx="925.6" cy="691.2" r="2.6" fill="url(#cg)" stroke="#3a3030" stroke-width="1.35"/>
<circle cx="932.4" cy="691.2" r="2.6" fill="url(#cg)" stroke="#3a3030" stroke-width="1.35"/>
<circle cx="939.2" cy="691.2" r="2.6" fill="url(#cg)" stroke="#3a3030" stroke-width="1.35"/>
<circle cx="945.9" cy="691.2" r="2.6" fill="url(#cg)" stroke="#3a3030" stroke-width="1.35"/>
<circle cx="952.7" cy="691.2" r="2.6" fill="url(#cg)" stroke="#3a3030" stroke-width="1.35"/>
<circle cx="959.5" cy="691.2" r="2.6" fill="url(#cg)" stroke="#3a3030" stroke-width="1.35"/>
<circle cx="966.3" cy="691.2" r="2.6" fill="url(#cg)" stroke="#3a3030" stroke-width="1.35"/>
<circle cx="973.1" cy="691.2" r="2.6" fill="url(#cg)" stroke="#3a3030" stroke-width="1.35"/>
<circle cx="979.8" cy="691.2" r="2.6" fill="url(#cg)" stroke="#3a3030" stroke-width="1.35"/>
<circle cx="986.6" cy="691.2" r="2.6" fill="url(#cg)" stroke="#3a3030" stroke-width="1.35"/>
<circle cx="722.2" cy="698.0" r="2.6" fill="url(#cg)" stroke="#3a3030" stroke-width="1.35"/>
<circle cx="729.0" cy="698.0" r="2.6" fill="url(#cg)" stroke="#3a3030" stroke-width="1.35"/>
<circle cx="735.8" cy="698.0" r="2.6" fill="url(#cg)" stroke="#3a3030" stroke-width="1.35"/>
<circle cx="742.5" cy="698.0" r="2.6" fill="url(#cg)" stroke="#3a3030" stroke-width="1.35"/>
<circle cx="749.3" cy="698.0" r="2.6" fill="url(#cg)" stroke="#3a3030" stroke-width="1.35"/>
<circle cx="756.1" cy="698.0" r="2.6" fill="url(#cg)" stroke="#3a3030" stroke-width="1.35"/>
<circle cx="762.9" cy="698.0" r="2.6" fill="url(#cg)" stroke="#3a3030" stroke-width="1.35"/>
<circle cx="769.7" cy="698.0" r="2.6" fill="url(#cg)" stroke="#3a3030" stroke-width="1.35"/>
<circle cx="776.4" cy="698.0" r="2.6" fill="url(#cg)" stroke="#3a3030" stroke-width="1.35"/>
<circle cx="783.2" cy="698.0" r="2.6" fill="url(#cg)" stroke="#3a3030" stroke-width="1.35"/>
<circle cx="790.0" cy="698.0" r="2.6" fill="url(#cg)" stroke="#3a3030" stroke-width="1.35"/>
<circle cx="796.8" cy="698.0" r="2.6" fill="url(#cg)" stroke="#3a3030" stroke-width="1.35"/>
<circle cx="803.6" cy="698.0" r="2.6" fill="url(#cg)" stroke="#3a3030" stroke-width="1.35"/>
<circle cx="810.3" cy="698.0" r="2.6" fill="url(#cg)" stroke="#3a3030" stroke-width="1.35"/>
<circle cx="817.1" cy="698.0" r="2.6" fill="url(#cg)" stroke="#3a3030" stroke-width="1.35"/>
<circle cx="823.9" cy="698.0" r="2.6" fill="url(#cg)" stroke="#3a3030" stroke-width="1.35"/>
<circle cx="830.7" cy="698.0" r="2.6" fill="url(#cg)" stroke="#3a3030" stroke-width="1.35"/>
<circle cx="837.5" cy="698.0" r="2.6" fill="url(#cg)" stroke="#3a3030" stroke-width="1.35"/>
<circle cx="844.2" cy="698.0" r="2.6" fill="url(#cg)" stroke="#3a3030" stroke-width="1.35"/>
<circle cx="851.0" cy="698.0" r="2.6" fill="url(#cg)" stroke="#3a3030" stroke-width="1.35"/>
<circle cx="857.8" cy="698.0" r="2.6" fill="url(#cg)" stroke="#3a3030" stroke-width="1.35"/>
<circle cx="864.6" cy="698.0" r="2.6" fill="url(#cg)" stroke="#3a3030" stroke-width="1.35"/>
<circle cx="871.4" cy="698.0" r="2.6" fill="url(#cg)" stroke="#3a3030" stroke-width="1.35"/>
<circle cx="878.1" cy="698.0" r="2.6" fill="url(#cg)" stroke="#3a3030" stroke-width="1.35"/>
<circle cx="884.9" cy="698.0" r="2.6" fill="url(#cg)" stroke="#3a3030" stroke-width="1.35"/>
<circle cx="891.7" cy="698.0" r="2.6" fill="url(#cg)" stroke="#3a3030" stroke-width="1.35"/>
<circle cx="898.5" cy="698.0" r="2.6" fill="url(#cg)" stroke="#3a3030" stroke-width="1.35"/>
<circle cx="905.3" cy="698.0" r="2.6" fill="url(#cg)" stroke="#3a3030" stroke-width="1.35"/>
<circle cx="912.0" cy="698.0" r="2.6" fill="url(#cg)" stroke="#3a3030" stroke-width="1.35"/>
<circle cx="918.8" cy="698.0" r="2.6" fill="url(#cg)" stroke="#3a3030" stroke-width="1.35"/>
<circle cx="925.6" cy="698.0" r="2.6" fill="url(#cg)" stroke="#3a3030" stroke-width="1.35"/>
<circle cx="932.4" cy="698.0" r="2.6" fill="url(#cg)" stroke="#3a3030" stroke-width="1.35"/>
<circle cx="939.2" cy="698.0" r="2.6" fill="url(#cg)" stroke="#3a3030" stroke-width="1.35"/>
<circle cx="945.9" cy="698.0" r="2.6" fill="url(#cg)" stroke="#3a3030" stroke-width="1.35"/>
<circle cx="952.7" cy="698.0" r="2.6" fill="url(#cg)" stroke="#3a3030" stroke-width="1.35"/>
<circle cx="959.5" cy="698.0" r="2.6" fill="url(#cg)" stroke="#3a3030" stroke-width="1.35"/>
<circle cx="966.3" cy="698.0" r="2.6" fill="url(#cg)" stroke="#3a3030" stroke-width="1.35"/>
<circle cx="973.1" cy="698.0" r="2.6" fill="url(#cg)" stroke="#3a3030" stroke-width="1.35"/>
<circle cx="979.8" cy="698.0" r="2.6" fill="url(#cg)" stroke="#3a3030" stroke-width="1.35"/>
<circle cx="986.6" cy="698.0" r="2.6" fill="url(#cg)" stroke="#3a3030" stroke-width="1.35"/>
<circle cx="769.7" cy="704.7" r="2.6" fill="url(#cg)" stroke="#3a3030" stroke-width="1.35"/>
<circle cx="756.1" cy="711.5" r="2.6" fill="url(#cg)" stroke="#3a3030" stroke-width="1.35"/>
<circle cx="857.8" cy="725.1" r="2.6" fill="url(#cg)" stroke="#3a3030" stroke-width="1.35"/>
<circle cx="871.4" cy="725.1" r="2.6" fill="url(#cg)" stroke="#3a3030" stroke-width="1.35"/>
<circle cx="851.0" cy="738.6" r="2.6" fill="url(#cg)" stroke="#3a3030" stroke-width="1.35"/>
<circle cx="864.6" cy="738.6" r="2.6" fill="url(#cg)" stroke="#3a3030" stroke-width="1.35"/>
<circle cx="884.9" cy="745.4" r="2.6" fill="url(#cg)" stroke="#3a3030" stroke-width="1.35"/>
<circle cx="742.5" cy="752.2" r="2.6" fill="url(#cg)" stroke="#3a3030" stroke-width="1.35"/>
<circle cx="803.6" cy="752.2" r="2.6" fill="url(#cg)" stroke="#3a3030" stroke-width="1.35"/>
<circle cx="790.0" cy="765.8" r="2.6" fill="url(#cg)" stroke="#3a3030" stroke-width="1.35"/>
<circle cx="776.4" cy="779.3" r="2.6" fill="url(#cg)" stroke="#3a3030" stroke-width="1.35"/>
<circle cx="844.2" cy="779.3" r="2.6" fill="url(#cg)" stroke="#3a3030" stroke-width="1.35"/>
<circle cx="857.8" cy="779.3" r="2.6" fill="url(#cg)" stroke="#3a3030" stroke-width="1.35"/>
<circle cx="878.1" cy="779.3" r="2.6" fill="url(#cg)" stroke="#3a3030" stroke-width="1.35"/>
<circle cx="884.9" cy="779.3" r="2.6" fill="url(#cg)" stroke="#3a3030" stroke-width="1.35"/>
<circle cx="959.5" cy="779.3" r="2.6" fill="url(#cg)" stroke="#3a3030" stroke-width="1.35"/>
<circle cx="810.3" cy="786.1" r="2.6" fill="url(#cg)" stroke="#3a3030" stroke-width="1.35"/>
<circle cx="851.0" cy="786.1" r="2.6" fill="url(#cg)" stroke="#3a3030" stroke-width="1.35"/>
<circle cx="878.1" cy="786.1" r="2.6" fill="url(#cg)" stroke="#3a3030" stroke-width="1.35"/>
<circle cx="884.9" cy="786.1" r="2.6" fill="url(#cg)" stroke="#3a3030" stroke-width="1.35"/>
<circle cx="898.5" cy="786.1" r="2.6" fill="url(#cg)" stroke="#3a3030" stroke-width="1.35"/>
<circle cx="932.4" cy="786.1" r="2.6" fill="url(#cg)" stroke="#3a3030" stroke-width="1.35"/>
<circle cx="939.2" cy="786.1" r="2.6" fill="url(#cg)" stroke="#3a3030" stroke-width="1.35"/>
<circle cx="729.0" cy="792.9" r="2.6" fill="url(#cg)" stroke="#3a3030" stroke-width="1.35"/>
<circle cx="749.3" cy="792.9" r="2.6" fill="url(#cg)" stroke="#3a3030" stroke-width="1.35"/>
<circle cx="796.8" cy="792.9" r="2.6" fill="url(#cg)" stroke="#3a3030" stroke-width="1.35"/>
<circle cx="810.3" cy="792.9" r="2.6" fill="url(#cg)" stroke="#3a3030" stroke-width="1.35"/>
<circle cx="817.1" cy="792.9" r="2.6" fill="url(#cg)" stroke="#3a3030" stroke-width="1.35"/>
<circle cx="851.0" cy="792.9" r="2.6" fill="url(#cg)" stroke="#3a3030" stroke-width="1.35"/>
<circle cx="878.1" cy="792.9" r="2.6" fill="url(#cg)" stroke="#3a3030" stroke-width="1.35"/>
<circle cx="898.5" cy="792.9" r="2.6" fill="url(#cg)" stroke="#3a3030" stroke-width="1.35"/>
<circle cx="925.6" cy="792.9" r="2.6" fill="url(#cg)" stroke="#3a3030" stroke-width="1.35"/>
<circle cx="932.4" cy="792.9" r="2.6" fill="url(#cg)" stroke="#3a3030" stroke-width="1.35"/>
<circle cx="939.2" cy="792.9" r="2.6" fill="url(#cg)" stroke="#3a3030" stroke-width="1.35"/>
<circle cx="959.5" cy="792.9" r="2.6" fill="url(#cg)" stroke="#3a3030" stroke-width="1.35"/>
<circle cx="729.0" cy="799.7" r="2.6" fill="url(#cg)" stroke="#3a3030" stroke-width="1.35"/>
<circle cx="749.3" cy="799.7" r="2.6" fill="url(#cg)" stroke="#3a3030" stroke-width="1.35"/>
<circle cx="783.2" cy="799.7" r="2.6" fill="url(#cg)" stroke="#3a3030" stroke-width="1.35"/>
<circle cx="796.8" cy="799.7" r="2.6" fill="url(#cg)" stroke="#3a3030" stroke-width="1.35"/>
<circle cx="810.3" cy="799.7" r="2.6" fill="url(#cg)" stroke="#3a3030" stroke-width="1.35"/>
<circle cx="851.0" cy="799.7" r="2.6" fill="url(#cg)" stroke="#3a3030" stroke-width="1.35"/>
<circle cx="878.1" cy="799.7" r="2.6" fill="url(#cg)" stroke="#3a3030" stroke-width="1.35"/>
<circle cx="898.5" cy="799.7" r="2.6" fill="url(#cg)" stroke="#3a3030" stroke-width="1.35"/>
<circle cx="912.0" cy="799.7" r="2.6" fill="url(#cg)" stroke="#3a3030" stroke-width="1.35"/>
<circle cx="932.4" cy="799.7" r="2.6" fill="url(#cg)" stroke="#3a3030" stroke-width="1.35"/>
<circle cx="939.2" cy="799.7" r="2.6" fill="url(#cg)" stroke="#3a3030" stroke-width="1.35"/>
<circle cx="722.2" cy="806.4" r="2.6" fill="url(#cg)" stroke="#3a3030" stroke-width="1.35"/>
<circle cx="729.0" cy="806.4" r="2.6" fill="url(#cg)" stroke="#3a3030" stroke-width="1.35"/>
<circle cx="735.8" cy="806.4" r="2.6" fill="url(#cg)" stroke="#3a3030" stroke-width="1.35"/>
<circle cx="742.5" cy="806.4" r="2.6" fill="url(#cg)" stroke="#3a3030" stroke-width="1.35"/>
<circle cx="749.3" cy="806.4" r="2.6" fill="url(#cg)" stroke="#3a3030" stroke-width="1.35"/>
<circle cx="762.9" cy="806.4" r="2.6" fill="url(#cg)" stroke="#3a3030" stroke-width="1.35"/>
<circle cx="783.2" cy="806.4" r="2.6" fill="url(#cg)" stroke="#3a3030" stroke-width="1.35"/>
<circle cx="790.0" cy="806.4" r="2.6" fill="url(#cg)" stroke="#3a3030" stroke-width="1.35"/>
<circle cx="796.8" cy="806.4" r="2.6" fill="url(#cg)" stroke="#3a3030" stroke-width="1.35"/>
<circle cx="803.6" cy="806.4" r="2.6" fill="url(#cg)" stroke="#3a3030" stroke-width="1.35"/>
<circle cx="810.3" cy="806.4" r="2.6" fill="url(#cg)" stroke="#3a3030" stroke-width="1.35"/>
<circle cx="823.9" cy="806.4" r="2.6" fill="url(#cg)" stroke="#3a3030" stroke-width="1.35"/>
<circle cx="830.7" cy="806.4" r="2.6" fill="url(#cg)" stroke="#3a3030" stroke-width="1.35"/>
<circle cx="837.5" cy="806.4" r="2.6" fill="url(#cg)" stroke="#3a3030" stroke-width="1.35"/>
<circle cx="851.0" cy="806.4" r="2.6" fill="url(#cg)" stroke="#3a3030" stroke-width="1.35"/>
<circle cx="857.8" cy="806.4" r="2.6" fill="url(#cg)" stroke="#3a3030" stroke-width="1.35"/>
<circle cx="871.4" cy="806.4" r="2.6" fill="url(#cg)" stroke="#3a3030" stroke-width="1.35"/>
<circle cx="878.1" cy="806.4" r="2.6" fill="url(#cg)" stroke="#3a3030" stroke-width="1.35"/>
<circle cx="884.9" cy="806.4" r="2.6" fill="url(#cg)" stroke="#3a3030" stroke-width="1.35"/>
<circle cx="891.7" cy="806.4" r="2.6" fill="url(#cg)" stroke="#3a3030" stroke-width="1.35"/>
<circle cx="898.5" cy="806.4" r="2.6" fill="url(#cg)" stroke="#3a3030" stroke-width="1.35"/>
<circle cx="912.0" cy="806.4" r="2.6" fill="url(#cg)" stroke="#3a3030" stroke-width="1.35"/>
<circle cx="925.6" cy="806.4" r="2.6" fill="url(#cg)" stroke="#3a3030" stroke-width="1.35"/>
<circle cx="932.4" cy="806.4" r="2.6" fill="url(#cg)" stroke="#3a3030" stroke-width="1.35"/>
<circle cx="939.2" cy="806.4" r="2.6" fill="url(#cg)" stroke="#3a3030" stroke-width="1.35"/>
<circle cx="722.2" cy="813.2" r="2.6" fill="url(#cg)" stroke="#3a3030" stroke-width="1.35"/>
<circle cx="729.0" cy="813.2" r="2.6" fill="url(#cg)" stroke="#3a3030" stroke-width="1.35"/>
<circle cx="735.8" cy="813.2" r="2.6" fill="url(#cg)" stroke="#3a3030" stroke-width="1.35"/>
<circle cx="749.3" cy="813.2" r="2.6" fill="url(#cg)" stroke="#3a3030" stroke-width="1.35"/>
<circle cx="762.9" cy="813.2" r="2.6" fill="url(#cg)" stroke="#3a3030" stroke-width="1.35"/>
<circle cx="796.8" cy="813.2" r="2.6" fill="url(#cg)" stroke="#3a3030" stroke-width="1.35"/>
<circle cx="803.6" cy="813.2" r="2.6" fill="url(#cg)" stroke="#3a3030" stroke-width="1.35"/>
<circle cx="810.3" cy="813.2" r="2.6" fill="url(#cg)" stroke="#3a3030" stroke-width="1.35"/>
<circle cx="823.9" cy="813.2" r="2.6" fill="url(#cg)" stroke="#3a3030" stroke-width="1.35"/>
<circle cx="830.7" cy="813.2" r="2.6" fill="url(#cg)" stroke="#3a3030" stroke-width="1.35"/>
<circle cx="837.5" cy="813.2" r="2.6" fill="url(#cg)" stroke="#3a3030" stroke-width="1.35"/>
<circle cx="844.2" cy="813.2" r="2.6" fill="url(#cg)" stroke="#3a3030" stroke-width="1.35"/>
<circle cx="851.0" cy="813.2" r="2.6" fill="url(#cg)" stroke="#3a3030" stroke-width="1.35"/>
<circle cx="864.6" cy="813.2" r="2.6" fill="url(#cg)" stroke="#3a3030" stroke-width="1.35"/>
<circle cx="871.4" cy="813.2" r="2.6" fill="url(#cg)" stroke="#3a3030" stroke-width="1.35"/>
<circle cx="878.1" cy="813.2" r="2.6" fill="url(#cg)" stroke="#3a3030" stroke-width="1.35"/>
<circle cx="884.9" cy="813.2" r="2.6" fill="url(#cg)" stroke="#3a3030" stroke-width="1.35"/>
<circle cx="905.3" cy="813.2" r="2.6" fill="url(#cg)" stroke="#3a3030" stroke-width="1.35"/>
<circle cx="932.4" cy="813.2" r="2.6" fill="url(#cg)" stroke="#3a3030" stroke-width="1.35"/>
<circle cx="939.2" cy="813.2" r="2.6" fill="url(#cg)" stroke="#3a3030" stroke-width="1.35"/>
<circle cx="945.9" cy="813.2" r="2.6" fill="url(#cg)" stroke="#3a3030" stroke-width="1.35"/>
<circle cx="959.5" cy="813.2" r="2.6" fill="url(#cg)" stroke="#3a3030" stroke-width="1.35"/>
<circle cx="966.3" cy="813.2" r="2.6" fill="url(#cg)" stroke="#3a3030" stroke-width="1.35"/>
<circle cx="722.2" cy="820.0" r="2.6" fill="url(#cg)" stroke="#3a3030" stroke-width="1.35"/>
<circle cx="729.0" cy="820.0" r="2.6" fill="url(#cg)" stroke="#3a3030" stroke-width="1.35"/>
<circle cx="735.8" cy="820.0" r="2.6" fill="url(#cg)" stroke="#3a3030" stroke-width="1.35"/>
<circle cx="749.3" cy="820.0" r="2.6" fill="url(#cg)" stroke="#3a3030" stroke-width="1.35"/>
<circle cx="756.1" cy="820.0" r="2.6" fill="url(#cg)" stroke="#3a3030" stroke-width="1.35"/>
<circle cx="762.9" cy="820.0" r="2.6" fill="url(#cg)" stroke="#3a3030" stroke-width="1.35"/>
<circle cx="790.0" cy="820.0" r="2.6" fill="url(#cg)" stroke="#3a3030" stroke-width="1.35"/>
<circle cx="796.8" cy="820.0" r="2.6" fill="url(#cg)" stroke="#3a3030" stroke-width="1.35"/>
<circle cx="803.6" cy="820.0" r="2.6" fill="url(#cg)" stroke="#3a3030" stroke-width="1.35"/>
<circle cx="810.3" cy="820.0" r="2.6" fill="url(#cg)" stroke="#3a3030" stroke-width="1.35"/>
<circle cx="823.9" cy="820.0" r="2.6" fill="url(#cg)" stroke="#3a3030" stroke-width="1.35"/>
<circle cx="830.7" cy="820.0" r="2.6" fill="url(#cg)" stroke="#3a3030" stroke-width="1.35"/>
<circle cx="837.5" cy="820.0" r="2.6" fill="url(#cg)" stroke="#3a3030" stroke-width="1.35"/>
<circle cx="844.2" cy="820.0" r="2.6" fill="url(#cg)" stroke="#3a3030" stroke-width="1.35"/>
<circle cx="851.0" cy="820.0" r="2.6" fill="url(#cg)" stroke="#3a3030" stroke-width="1.35"/>
<circle cx="864.6" cy="820.0" r="2.6" fill="url(#cg)" stroke="#3a3030" stroke-width="1.35"/>
<circle cx="871.4" cy="820.0" r="2.6" fill="url(#cg)" stroke="#3a3030" stroke-width="1.35"/>
<circle cx="912.0" cy="820.0" r="2.6" fill="url(#cg)" stroke="#3a3030" stroke-width="1.35"/>
<circle cx="939.2" cy="820.0" r="2.6" fill="url(#cg)" stroke="#3a3030" stroke-width="1.35"/>
<circle cx="952.7" cy="820.0" r="2.6" fill="url(#cg)" stroke="#3a3030" stroke-width="1.35"/>
<circle cx="959.5" cy="820.0" r="2.6" fill="url(#cg)" stroke="#3a3030" stroke-width="1.35"/>
<circle cx="973.1" cy="820.0" r="2.6" fill="url(#cg)" stroke="#3a3030" stroke-width="1.35"/>
<circle cx="986.6" cy="820.0" r="2.6" fill="url(#cg)" stroke="#3a3030" stroke-width="1.35"/>
<circle cx="722.2" cy="826.8" r="2.6" fill="url(#cg)" stroke="#3a3030" stroke-width="1.35"/>
<circle cx="735.8" cy="826.8" r="2.6" fill="url(#cg)" stroke="#3a3030" stroke-width="1.35"/>
<circle cx="749.3" cy="826.8" r="2.6" fill="url(#cg)" stroke="#3a3030" stroke-width="1.35"/>
<circle cx="776.4" cy="826.8" r="2.6" fill="url(#cg)" stroke="#3a3030" stroke-width="1.35"/>
<circle cx="783.2" cy="826.8" r="2.6" fill="url(#cg)" stroke="#3a3030" stroke-width="1.35"/>
<circle cx="796.8" cy="826.8" r="2.6" fill="url(#cg)" stroke="#3a3030" stroke-width="1.35"/>
<circle cx="803.6" cy="826.8" r="2.6" fill="url(#cg)" stroke="#3a3030" stroke-width="1.35"/>
<circle cx="810.3" cy="826.8" r="2.6" fill="url(#cg)" stroke="#3a3030" stroke-width="1.35"/>
<circle cx="817.1" cy="826.8" r="2.6" fill="url(#cg)" stroke="#3a3030" stroke-width="1.35"/>
<circle cx="844.2" cy="826.8" r="2.6" fill="url(#cg)" stroke="#3a3030" stroke-width="1.35"/>
<circle cx="851.0" cy="826.8" r="2.6" fill="url(#cg)" stroke="#3a3030" stroke-width="1.35"/>
<circle cx="857.8" cy="826.8" r="2.6" fill="url(#cg)" stroke="#3a3030" stroke-width="1.35"/>
<circle cx="864.6" cy="826.8" r="2.6" fill="url(#cg)" stroke="#3a3030" stroke-width="1.35"/>
<circle cx="898.5" cy="826.8" r="2.6" fill="url(#cg)" stroke="#3a3030" stroke-width="1.35"/>
<circle cx="905.3" cy="826.8" r="2.6" fill="url(#cg)" stroke="#3a3030" stroke-width="1.35"/>
<circle cx="912.0" cy="826.8" r="2.6" fill="url(#cg)" stroke="#3a3030" stroke-width="1.35"/>
<circle cx="939.2" cy="826.8" r="2.6" fill="url(#cg)" stroke="#3a3030" stroke-width="1.35"/>
<circle cx="959.5" cy="826.8" r="2.6" fill="url(#cg)" stroke="#3a3030" stroke-width="1.35"/>
<circle cx="966.3" cy="826.8" r="2.6" fill="url(#cg)" stroke="#3a3030" stroke-width="1.35"/>
<circle cx="973.1" cy="826.8" r="2.6" fill="url(#cg)" stroke="#3a3030" stroke-width="1.35"/>
<circle cx="979.8" cy="826.8" r="2.6" fill="url(#cg)" stroke="#3a3030" stroke-width="1.35"/>
<circle cx="722.2" cy="833.6" r="2.6" fill="url(#cg)" stroke="#3a3030" stroke-width="1.35"/>
<circle cx="729.0" cy="833.6" r="2.6" fill="url(#cg)" stroke="#3a3030" stroke-width="1.35"/>
<circle cx="735.8" cy="833.6" r="2.6" fill="url(#cg)" stroke="#3a3030" stroke-width="1.35"/>
<circle cx="749.3" cy="833.6" r="2.6" fill="url(#cg)" stroke="#3a3030" stroke-width="1.35"/>
<circle cx="762.9" cy="833.6" r="2.6" fill="url(#cg)" stroke="#3a3030" stroke-width="1.35"/>
<circle cx="769.7" cy="833.6" r="2.6" fill="url(#cg)" stroke="#3a3030" stroke-width="1.35"/>
<circle cx="776.4" cy="833.6" r="2.6" fill="url(#cg)" stroke="#3a3030" stroke-width="1.35"/>
<circle cx="796.8" cy="833.6" r="2.6" fill="url(#cg)" stroke="#3a3030" stroke-width="1.35"/>
<circle cx="803.6" cy="833.6" r="2.6" fill="url(#cg)" stroke="#3a3030" stroke-width="1.35"/>
<circle cx="810.3" cy="833.6" r="2.6" fill="url(#cg)" stroke="#3a3030" stroke-width="1.35"/>
<circle cx="817.1" cy="833.6" r="2.6" fill="url(#cg)" stroke="#3a3030" stroke-width="1.35"/>
<circle cx="823.9" cy="833.6" r="2.6" fill="url(#cg)" stroke="#3a3030" stroke-width="1.35"/>
<circle cx="830.7" cy="833.6" r="2.6" fill="url(#cg)" stroke="#3a3030" stroke-width="1.35"/>
<circle cx="844.2" cy="833.6" r="2.6" fill="url(#cg)" stroke="#3a3030" stroke-width="1.35"/>
<circle cx="864.6" cy="833.6" r="2.6" fill="url(#cg)" stroke="#3a3030" stroke-width="1.35"/>
<circle cx="871.4" cy="833.6" r="2.6" fill="url(#cg)" stroke="#3a3030" stroke-width="1.35"/>
<circle cx="884.9" cy="833.6" r="2.6" fill="url(#cg)" stroke="#3a3030" stroke-width="1.35"/>
<circle cx="891.7" cy="833.6" r="2.6" fill="url(#cg)" stroke="#3a3030" stroke-width="1.35"/>
<circle cx="898.5" cy="833.6" r="2.6" fill="url(#cg)" stroke="#3a3030" stroke-width="1.35"/>
<circle cx="905.3" cy="833.6" r="2.6" fill="url(#cg)" stroke="#3a3030" stroke-width="1.35"/>
<circle cx="912.0" cy="833.6" r="2.6" fill="url(#cg)" stroke="#3a3030" stroke-width="1.35"/>
<circle cx="925.6" cy="833.6" r="2.6" fill="url(#cg)" stroke="#3a3030" stroke-width="1.35"/>
<circle cx="932.4" cy="833.6" r="2.6" fill="url(#cg)" stroke="#3a3030" stroke-width="1.35"/>
<circle cx="939.2" cy="833.6" r="2.6" fill="url(#cg)" stroke="#3a3030" stroke-width="1.35"/>
<circle cx="959.5" cy="833.6" r="2.6" fill="url(#cg)" stroke="#3a3030" stroke-width="1.35"/>
<circle cx="966.3" cy="833.6" r="2.6" fill="url(#cg)" stroke="#3a3030" stroke-width="1.35"/>
<circle cx="979.8" cy="833.6" r="2.6" fill="url(#cg)" stroke="#3a3030" stroke-width="1.35"/>
<rect x="255.8" y="639" width="25.3" height="7" fill="#d62422"/>
<rect x="265.1" y="629.9" width="6.9" height="25.1" fill="#d62422"/>
<rect x="258.3" y="876.5" width="25.1" height="7.2" fill="#3a3090"/></svg>
</body></html>
